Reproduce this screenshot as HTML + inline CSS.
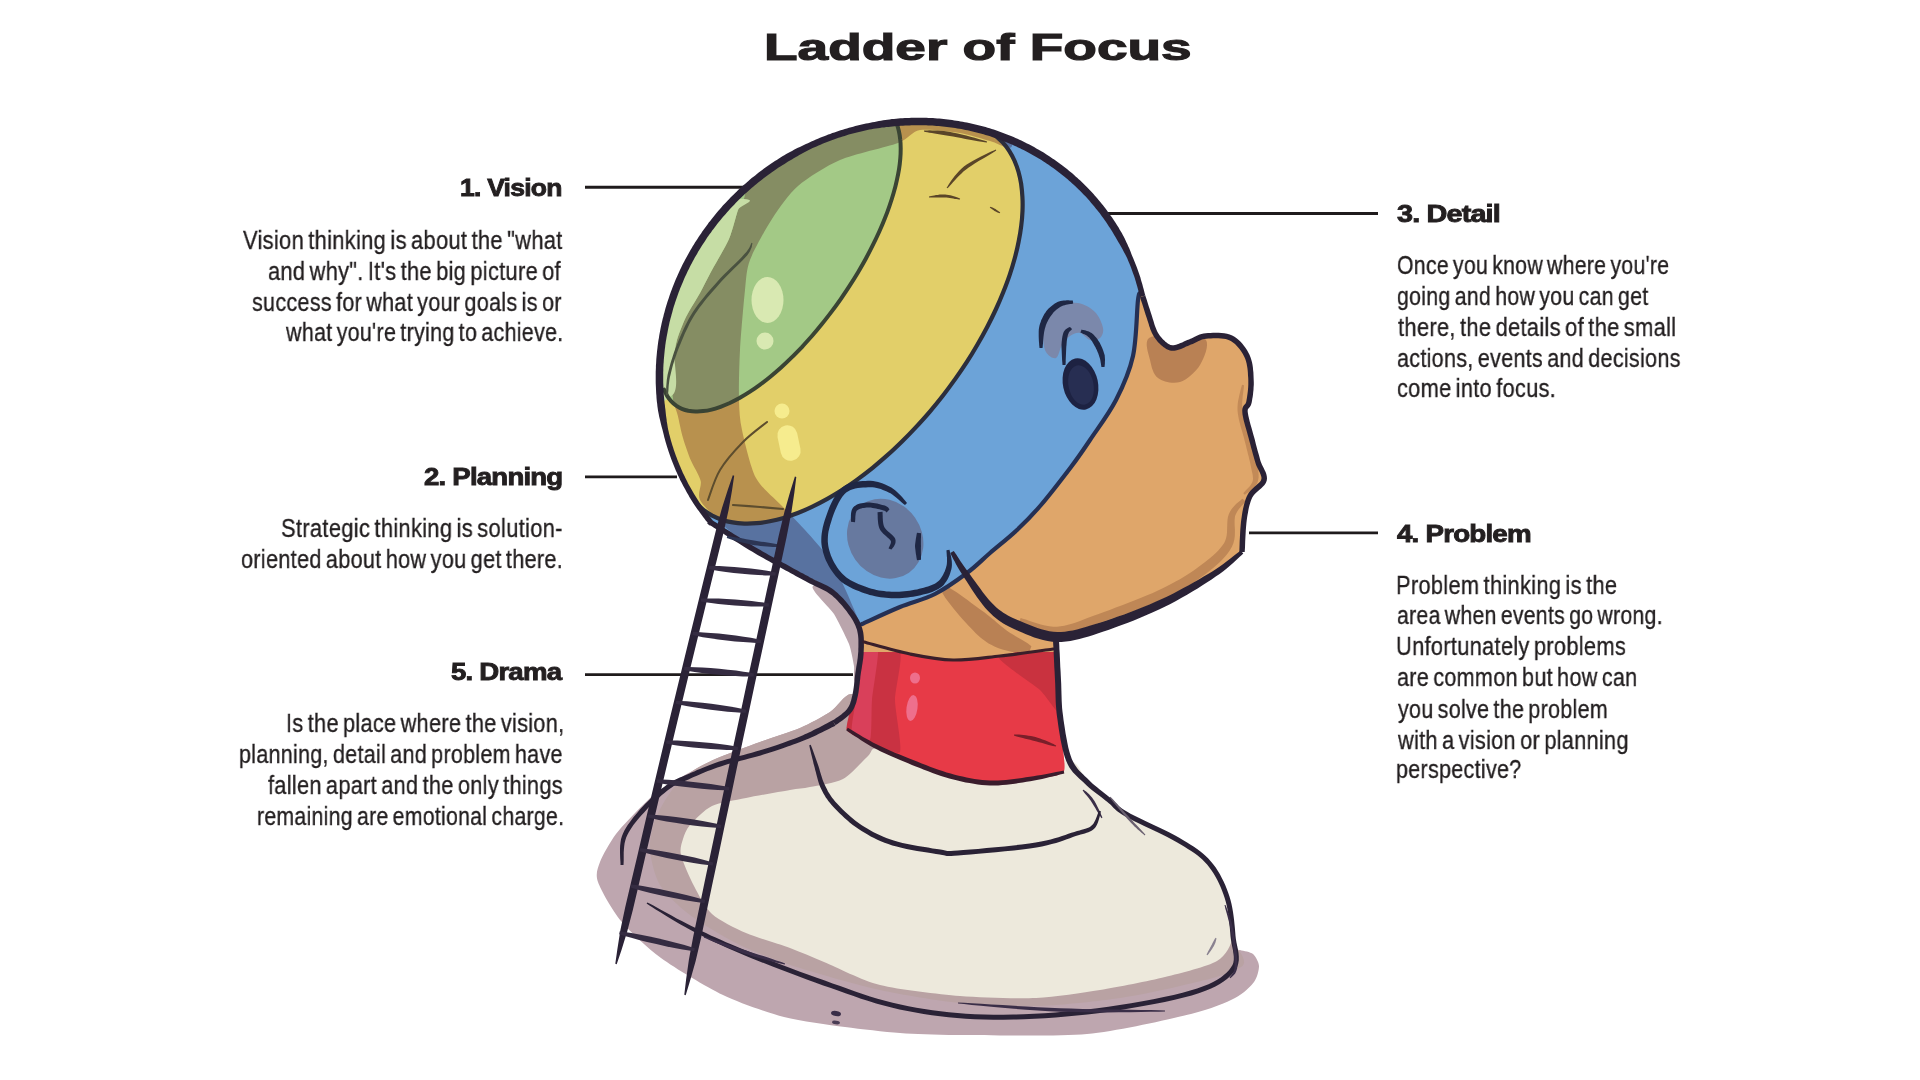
<!DOCTYPE html>
<html><head><meta charset="utf-8"><title>Ladder of Focus</title>
<style>
html,body{margin:0;padding:0;background:#fff;}
body{width:1920px;height:1080px;position:relative;overflow:hidden;font-family:"Liberation Sans",sans-serif;}
span{position:absolute;white-space:pre;transform-origin:0 0;-webkit-font-smoothing:antialiased;will-change:transform;}
svg{position:absolute;left:0;top:0;}
</style></head><body>
<svg width="1920" height="1080" viewBox="0 0 1920 1080">
<defs><clipPath id="hc"><path d="M710.8,522.4 L703.2,512.6 L696.2,502.5 L689.7,491.9 L683.8,481.0 L678.5,469.8 L673.9,458.3 L669.9,446.5 L666.5,434.5 L663.8,422.3 L661.7,409.9 L660.3,397.4 L659.5,384.8 L659.5,372.2 L660.1,359.5 L661.3,346.9 L663.3,334.3 L665.9,321.7 L669.1,309.3 L673.0,297.0 L677.6,285.0 L682.7,273.1 L688.5,261.5 L694.8,250.1 L701.7,239.1 L709.2,228.4 L717.2,218.1 L725.7,208.2 L734.7,198.7 L744.2,189.6 L754.1,181.0 L764.5,173.0 L775.2,165.4 L786.2,158.4 L797.6,152.0 L809.3,146.1 L821.2,140.8 L833.4,136.2 L845.7,132.1 L858.2,128.7 L870.9,126.0 L883.6,123.9 L896.4,122.4 L909.2,121.6 L922.0,121.5 L934.8,122.0 L947.4,123.2 L960.0,125.1 L972.4,127.6 L984.6,130.7 L996.5,134.5 L1008.3,138.9 L1019.7,144.0 L1030.8,149.6 L1041.6,155.8 L1052.0,162.6 L1062.0,170.0 L1071.6,177.8 L1080.7,186.2 L1089.3,195.1 L1097.4,204.4 L1105.0,214.2 L1112.0,224.3 L1118.5,234.9 L1124.4,245.8 L1129.7,257.0 L1134.3,268.5 L1138.3,280.3 L1141.7,292.3 L1149.0,316.0 L1155.0,333.0 L1164.0,344.0 L1174.0,348.0 L1190.0,342.0 L1206.0,336.0 L1231.0,338.0 L1247.0,356.0 L1251.0,380.0 L1249.0,402.0 L1245.0,412.0 L1252.0,440.0 L1258.0,462.0 L1264.0,480.0 L1250.0,496.0 L1244.0,520.0 L1242.0,552.0 L1214.0,574.0 L1163.0,603.0 L1102.0,627.0 L1057.0,637.0 L1056.0,652.0 L862.0,652.0 L862.0,630.0 L843.0,601.0 L815.0,580.0 L787.0,569.0 L759.0,552.5 L732.0,536.0 Z"/></clipPath><clipPath id="sc"><ellipse cx="904.1" cy="363.4" rx="250.3" ry="236.1" transform="rotate(-39.44 904.1 363.4)"/></clipPath></defs>
<line x1="585" y1="187.3" x2="751" y2="187.3" stroke="#1f1b1c" stroke-width="2.9"/>
<line x1="585" y1="476.9" x2="677" y2="476.9" stroke="#1f1b1c" stroke-width="2.9"/>
<line x1="585" y1="674.6" x2="853" y2="674.6" stroke="#1f1b1c" stroke-width="2.9"/>
<line x1="1100" y1="213.5" x2="1378" y2="213.5" stroke="#1f1b1c" stroke-width="2.9"/>
<line x1="1249" y1="532.9" x2="1378" y2="532.9" stroke="#1f1b1c" stroke-width="2.9"/>
<path d="M813.0,586.0 C808.9,588.4 830.4,608.2 834.0,614.0 C837.6,619.8 847.0,638.8 849.0,644.0 C851.0,649.2 853.4,662.2 854.0,666.0 C854.6,669.8 852.9,680.4 855.0,682.0 C857.1,683.6 873.0,691.2 875.0,682.0 C877.0,672.8 881.2,599.6 875.0,590.0 C868.8,580.4 817.1,583.6 813.0,586.0 Z" fill="#baa5ac"/>
<path d="M852.0,694.0 C845.3,692.9 836.9,707.5 830.0,712.0 C823.1,716.5 809.3,724.0 800.0,728.0 C790.7,732.0 770.7,738.1 760.0,742.0 C749.3,745.9 728.8,753.3 720.0,757.0 C711.2,760.7 702.0,765.6 694.0,770.0 C686.0,774.4 666.9,785.2 660.0,790.0 C653.1,794.8 647.9,800.1 642.0,806.0 C636.1,811.9 621.6,826.5 616.0,834.0 C610.4,841.5 602.4,855.6 600.0,862.0 C597.6,868.4 595.2,874.1 598.0,882.0 C600.8,889.9 612.6,910.9 621.0,921.0 C629.4,931.1 647.4,948.1 661.0,958.0 C674.6,967.9 706.6,987.1 723.0,995.0 C739.4,1002.9 767.7,1012.7 784.0,1017.0 C800.3,1021.3 829.5,1024.9 845.0,1027.0 C860.5,1029.1 884.9,1031.9 900.0,1033.0 C915.1,1034.1 933.1,1034.9 958.0,1035.0 C982.9,1035.1 1055.9,1036.8 1087.0,1034.0 C1118.1,1031.2 1171.3,1018.8 1191.0,1014.0 C1210.7,1009.2 1226.6,1002.3 1235.0,998.0 C1243.4,993.7 1250.8,986.3 1254.0,982.0 C1257.2,977.7 1259.1,969.7 1259.0,966.0 C1258.9,962.3 1255.5,956.1 1253.0,954.0 C1250.5,951.9 1243.6,951.1 1240.0,950.0 C1236.4,948.9 1238.0,959.3 1226.0,946.0 C1214.0,932.7 1180.1,874.8 1150.0,850.0 C1119.9,825.2 1036.0,777.3 1000.0,760.0 C964.0,742.7 899.7,728.8 880.0,720.0 C860.3,711.2 858.7,695.1 852.0,694.0 Z" fill="#bea6af"/>
<path d="M852.0,694.0 C845.3,692.9 836.9,707.5 830.0,712.0 C823.1,716.5 809.3,724.0 800.0,728.0 C790.7,732.0 770.7,738.1 760.0,742.0 C749.3,745.9 728.8,753.3 720.0,757.0 C711.2,760.7 700.4,765.6 694.0,770.0 C687.6,774.4 677.2,783.3 672.0,790.0 C666.8,796.7 657.9,812.0 655.0,820.0 C652.1,828.0 649.3,841.3 650.0,850.0 C650.7,858.7 654.7,876.3 660.0,885.0 C665.3,893.7 679.3,907.0 690.0,915.0 C700.7,923.0 725.3,937.9 740.0,945.0 C754.7,952.1 781.3,962.0 800.0,968.0 C818.7,974.0 858.7,985.3 880.0,990.0 C901.3,994.7 938.7,1000.9 960.0,1003.0 C981.3,1005.1 1018.7,1006.7 1040.0,1006.0 C1061.3,1005.3 1101.3,1000.7 1120.0,998.0 C1138.7,995.3 1165.3,989.5 1180.0,986.0 C1194.7,982.5 1222.0,976.5 1230.0,972.0 C1238.0,967.5 1250.7,968.3 1240.0,952.0 C1229.3,935.7 1182.0,875.6 1150.0,850.0 C1118.0,824.4 1036.0,777.3 1000.0,760.0 C964.0,742.7 899.7,728.8 880.0,720.0 C860.3,711.2 858.7,695.1 852.0,694.0 Z" fill="#b9a2a3"/>
<path d="M877.0,748.0 C870.1,748.1 872.5,751.9 868.0,756.0 C863.5,760.1 850.7,774.9 843.0,779.0 C835.3,783.1 817.1,785.5 810.0,787.0 C802.9,788.5 798.5,788.5 790.0,790.0 C781.5,791.5 756.4,795.9 746.0,798.0 C735.6,800.1 719.5,802.4 712.0,806.0 C704.5,809.6 693.9,820.6 690.0,825.0 C686.1,829.4 684.2,835.0 683.0,839.0 C681.8,843.0 679.5,848.7 681.0,855.0 C682.5,861.3 689.9,878.1 694.0,886.0 C698.1,893.9 705.1,907.7 712.0,914.0 C718.9,920.3 735.6,928.5 746.0,933.0 C756.4,937.5 779.6,944.1 790.0,948.0 C800.4,951.9 812.0,957.1 824.0,962.0 C836.0,966.9 861.9,980.5 880.0,985.0 C898.1,989.5 939.2,994.3 960.0,996.0 C980.8,997.7 1017.3,998.8 1036.0,998.0 C1054.7,997.2 1082.8,992.8 1100.0,990.0 C1117.2,987.2 1149.4,980.9 1165.0,977.0 C1180.6,973.1 1207.9,966.5 1217.0,961.0 C1226.1,955.5 1231.5,944.5 1233.0,936.0 C1234.5,927.5 1231.2,906.7 1228.0,897.0 C1224.8,887.3 1215.7,870.6 1209.0,863.0 C1202.3,855.4 1189.1,846.5 1178.0,840.0 C1166.9,833.5 1137.7,821.2 1126.0,814.0 C1114.3,806.8 1097.6,793.2 1090.0,786.0 C1082.4,778.8 1081.0,762.8 1069.0,760.0 C1057.0,757.2 1019.9,765.7 1000.0,765.0 C980.1,764.3 936.4,757.3 920.0,755.0 C903.6,752.7 883.9,747.9 877.0,748.0 Z" fill="#ede9dc"/>
<path d="M858.0,600.0 L1058.0,600.0 L1058.0,650.0 L1064.0,771.0 L990.0,784.0 L909.0,762.0 L847.0,730.0 L853.0,716.0 L857.0,690.0 L860.0,657.0 Z" fill="#dfa66a"/>
<path d="M864.0,642.0 C869.0,641.3 901.1,651.2 910.0,653.0 C918.9,654.8 944.0,659.7 953.0,660.0 C962.0,660.3 990.0,657.1 1000.0,656.0 C1010.0,654.9 1047.4,645.6 1053.0,649.0 C1058.6,652.4 1055.5,683.3 1056.0,690.0 C1056.5,696.7 1057.2,707.9 1058.0,716.0 C1058.8,724.1 1066.8,764.7 1064.0,771.0 C1061.2,777.3 1037.4,777.8 1030.0,779.0 C1022.6,780.2 998.0,783.3 990.0,783.0 C982.0,782.7 958.1,778.2 950.0,776.0 C941.9,773.8 916.5,764.0 909.0,761.0 C901.5,758.0 881.2,749.1 875.0,746.0 C868.8,742.9 849.2,733.0 847.0,730.0 C844.8,727.0 852.0,720.0 853.0,716.0 C854.0,712.0 856.3,695.6 857.0,690.0 C857.7,684.4 859.3,664.8 860.0,660.0 C860.7,655.2 859.0,642.7 864.0,642.0 Z" fill="#e73a47"/>
<path d="M864.0,645.0 C868.0,644.2 896.9,646.5 900.0,652.0 C903.1,657.5 895.0,690.0 895.0,700.0 C895.0,710.0 902.5,747.8 900.0,752.0 C897.5,756.2 875.3,744.2 870.0,742.0 C864.7,739.8 848.7,734.2 847.0,730.0 C845.3,725.8 851.7,707.0 853.0,700.0 C854.3,693.0 858.9,665.5 860.0,660.0 C861.1,654.5 860.0,645.8 864.0,645.0 Z" fill="#c93242"/>
<path d="M864.0,648.0 C866.2,643.1 877.2,645.8 878.0,651.0 C878.8,656.2 872.8,691.1 872.0,700.0 C871.2,708.9 872.0,736.8 870.0,740.0 C868.0,743.2 853.4,736.0 852.0,732.0 C850.6,728.0 854.8,708.4 856.0,700.0 C857.2,691.6 861.8,652.9 864.0,648.0 Z" fill="#d9405a"/>
<path d="M1000.0,656.0 C1004.3,654.1 1047.4,645.6 1053.0,649.0 C1058.6,652.4 1055.5,683.7 1056.0,690.0 C1056.5,696.3 1059.6,712.0 1058.0,712.0 C1056.4,712.0 1044.8,694.4 1040.0,690.0 C1035.2,685.6 1014.0,671.4 1010.0,668.0 C1006.0,664.6 995.7,657.9 1000.0,656.0 Z" fill="#c9323f"/>
<ellipse cx="915" cy="678" rx="5" ry="5.5" fill="#ee6f8c"/>
<ellipse cx="912" cy="708" rx="5.5" ry="13" transform="rotate(8 912 708)" fill="#ee6f8c"/>
<defs><clipPath id="cb"><path d="M1141.0,293.0 C1140.5,294.2 1139.3,289.5 1138.0,300.0 C1136.7,310.5 1136.7,339.3 1133.0,356.0 C1129.3,372.7 1123.2,386.0 1116.0,400.0 C1108.8,414.0 1097.5,428.8 1090.0,440.0 C1082.5,451.2 1079.2,456.2 1071.0,467.0 C1062.8,477.8 1050.0,494.5 1041.0,505.0 C1032.0,515.5 1025.5,522.0 1017.0,530.0 C1008.5,538.0 998.3,545.8 990.0,553.0 C981.7,560.2 976.2,566.2 967.0,573.0 C957.8,579.8 946.2,588.3 935.0,594.0 C923.8,599.7 912.2,602.0 900.0,607.0 C887.8,612.0 868.3,621.2 862.0,624.0 L840,640 L600,640 L600,100 L1145,100 Z"/></clipPath><clipPath id="cy"><path d="M965.9,122.8 L976.7,125.5 L986.4,129.6 L995.1,135.3 L1002.7,142.3 L1009.2,150.8 L1014.4,160.5 L1018.4,171.5 L1021.1,183.6 L1022.4,196.8 L1022.5,211.0 L1021.2,226.0 L1018.6,241.7 L1014.8,258.0 L1009.7,274.9 L1003.3,292.1 L995.8,309.5 L987.2,327.0 L977.5,344.5 L966.9,361.9 L955.3,378.9 L943.0,395.5 L929.9,411.6 L916.2,426.9 L902.0,441.5 L887.4,455.2 L872.6,467.9 L857.5,479.4 L842.4,489.8 L827.3,498.9 L812.4,506.6 L797.8,513.0 L783.6,517.9 L769.8,521.3 L756.7,523.2 L744.3,523.6 L732.7,522.4 L721.9,519.7 L712.2,515.6 L703.5,509.9 L695.9,502.9 L689.4,494.4 L684.2,484.7 L600.0,600.0 L600.0,60.0 L990.0,60.0 Z"/></clipPath><clipPath id="cg"><path d="M884.4,107.3 L889.3,111.6 L893.3,116.9 L896.5,123.3 L898.8,130.8 L900.2,139.2 L900.7,148.4 L900.3,158.5 L899.0,169.4 L896.7,180.9 L893.6,193.0 L889.6,205.6 L884.8,218.5 L879.2,231.8 L872.8,245.2 L865.8,258.7 L858.1,272.2 L849.7,285.6 L840.9,298.8 L831.6,311.6 L821.9,324.0 L811.9,336.0 L801.7,347.3 L791.2,357.9 L780.8,367.7 L770.3,376.7 L759.8,384.8 L749.6,391.9 L739.5,398.0 L729.8,403.0 L720.5,406.8 L711.6,409.6 L703.2,411.1 L695.5,411.5 L688.3,410.8 L681.9,408.8 L676.2,405.7 L671.3,401.4 L667.3,396.1 L664.1,389.7 L661.8,382.2 L600.0,420.0 L600.0,60.0 L900.0,60.0 Z"/></clipPath></defs>
<g clip-path="url(#hc)">
<rect x="600" y="100" width="700" height="560" fill="#dfa66a"/>
<path d="M1141.0,293.0 C1140.5,294.2 1139.3,289.5 1138.0,300.0 C1136.7,310.5 1136.7,339.3 1133.0,356.0 C1129.3,372.7 1123.2,386.0 1116.0,400.0 C1108.8,414.0 1097.5,428.8 1090.0,440.0 C1082.5,451.2 1079.2,456.2 1071.0,467.0 C1062.8,477.8 1050.0,494.5 1041.0,505.0 C1032.0,515.5 1025.5,522.0 1017.0,530.0 C1008.5,538.0 998.3,545.8 990.0,553.0 C981.7,560.2 976.2,566.2 967.0,573.0 C957.8,579.8 946.2,588.3 935.0,594.0 C923.8,599.7 912.2,602.0 900.0,607.0 C887.8,612.0 868.3,621.2 862.0,624.0 L840,640 L600,640 L600,100 L1145,100 Z" fill="#6ca3d8"/>
<g clip-path="url(#cb)"><path d="M1012.0,146.0 C1010.7,151.5 996.9,142.7 990.0,141.0 C983.1,139.3 969.3,134.5 960.0,133.0 C950.7,131.5 928.3,128.7 920.0,130.0 C911.7,131.3 908.7,139.0 898.0,143.0 C887.3,147.0 853.3,154.3 840.0,160.0 C826.7,165.7 807.1,178.1 798.0,186.0 C788.9,193.9 778.4,209.1 772.0,219.0 C765.6,228.9 753.6,250.5 750.0,260.0 C746.4,269.5 746.3,278.0 745.0,290.0 C743.7,302.0 740.8,335.3 740.0,350.0 C739.2,364.7 738.7,389.3 739.0,400.0 C739.3,410.7 739.7,419.6 742.0,430.0 C744.3,440.4 750.5,467.7 756.0,478.0 C761.5,488.3 776.5,500.1 783.0,507.0 C789.5,513.9 798.7,522.9 805.0,530.0 C811.3,537.1 824.0,550.7 830.0,560.0 C836.0,569.3 845.7,589.3 850.0,600.0 C854.3,610.7 868.7,640.0 862.0,640.0 C855.3,640.0 813.6,610.7 800.0,600.0 C786.4,589.3 766.4,566.9 760.0,560.0 C753.6,553.1 756.7,552.4 752.0,548.0 C747.3,543.6 731.9,533.4 725.0,527.0 C718.1,520.6 703.2,506.1 700.0,500.0 C696.8,493.9 702.0,486.3 700.7,480.9 C699.5,475.6 693.1,465.7 690.7,460.0 C688.3,454.3 684.7,444.0 683.0,438.0 C681.2,432.0 679.1,420.9 677.7,415.2 C676.3,409.5 672.9,402.9 672.5,395.0 C672.1,387.1 673.9,363.3 674.5,356.0 C675.1,348.7 675.5,345.2 677.0,340.0 C678.5,334.8 682.9,323.3 686.0,317.0 C689.1,310.7 696.5,299.3 700.0,293.0 C703.5,286.7 708.1,277.2 712.0,270.0 C715.9,262.8 725.5,247.0 729.0,239.0 C732.5,231.0 736.0,215.3 738.0,210.0 C740.0,204.7 741.1,207.0 744.0,199.0 C746.9,191.0 745.9,161.9 760.0,150.0 C774.1,138.1 818.0,116.7 850.0,110.0 C882.0,103.3 978.4,95.2 1000.0,100.0 C1021.6,104.8 1013.3,140.5 1012.0,146.0 Z" fill="#5872a0"/></g>
<g clip-path="url(#sc)">
<path d="M965.9,122.8 L976.7,125.5 L986.4,129.6 L995.1,135.3 L1002.7,142.3 L1009.2,150.8 L1014.4,160.5 L1018.4,171.5 L1021.1,183.6 L1022.4,196.8 L1022.5,211.0 L1021.2,226.0 L1018.6,241.7 L1014.8,258.0 L1009.7,274.9 L1003.3,292.1 L995.8,309.5 L987.2,327.0 L977.5,344.5 L966.9,361.9 L955.3,378.9 L943.0,395.5 L929.9,411.6 L916.2,426.9 L902.0,441.5 L887.4,455.2 L872.6,467.9 L857.5,479.4 L842.4,489.8 L827.3,498.9 L812.4,506.6 L797.8,513.0 L783.6,517.9 L769.8,521.3 L756.7,523.2 L744.3,523.6 L732.7,522.4 L721.9,519.7 L712.2,515.6 L703.5,509.9 L695.9,502.9 L689.4,494.4 L684.2,484.7 L600.0,600.0 L600.0,60.0 L990.0,60.0 Z" fill="#e2cf69"/>
<g clip-path="url(#cy)"><path d="M1012.0,146.0 C1010.7,151.5 996.9,142.7 990.0,141.0 C983.1,139.3 969.3,134.5 960.0,133.0 C950.7,131.5 928.3,128.7 920.0,130.0 C911.7,131.3 908.7,139.0 898.0,143.0 C887.3,147.0 853.3,154.3 840.0,160.0 C826.7,165.7 807.1,178.1 798.0,186.0 C788.9,193.9 778.4,209.1 772.0,219.0 C765.6,228.9 753.6,250.5 750.0,260.0 C746.4,269.5 746.3,278.0 745.0,290.0 C743.7,302.0 740.8,335.3 740.0,350.0 C739.2,364.7 738.7,389.3 739.0,400.0 C739.3,410.7 739.7,419.6 742.0,430.0 C744.3,440.4 750.5,467.7 756.0,478.0 C761.5,488.3 776.5,500.1 783.0,507.0 C789.5,513.9 798.7,522.9 805.0,530.0 C811.3,537.1 824.0,550.7 830.0,560.0 C836.0,569.3 845.7,589.3 850.0,600.0 C854.3,610.7 868.7,640.0 862.0,640.0 C855.3,640.0 813.6,610.7 800.0,600.0 C786.4,589.3 766.4,566.9 760.0,560.0 C753.6,553.1 756.7,552.4 752.0,548.0 C747.3,543.6 731.9,533.4 725.0,527.0 C718.1,520.6 703.2,506.1 700.0,500.0 C696.8,493.9 702.0,486.3 700.7,480.9 C699.5,475.6 693.1,465.7 690.7,460.0 C688.3,454.3 684.7,444.0 683.0,438.0 C681.2,432.0 679.1,420.9 677.7,415.2 C676.3,409.5 672.9,402.9 672.5,395.0 C672.1,387.1 673.9,363.3 674.5,356.0 C675.1,348.7 675.5,345.2 677.0,340.0 C678.5,334.8 682.9,323.3 686.0,317.0 C689.1,310.7 696.5,299.3 700.0,293.0 C703.5,286.7 708.1,277.2 712.0,270.0 C715.9,262.8 725.5,247.0 729.0,239.0 C732.5,231.0 736.0,215.3 738.0,210.0 C740.0,204.7 741.1,207.0 744.0,199.0 C746.9,191.0 745.9,161.9 760.0,150.0 C774.1,138.1 818.0,116.7 850.0,110.0 C882.0,103.3 978.4,95.2 1000.0,100.0 C1021.6,104.8 1013.3,140.5 1012.0,146.0 Z" fill="#b8914e"/></g>
<path d="M884.4,107.3 L889.3,111.6 L893.3,116.9 L896.5,123.3 L898.8,130.8 L900.2,139.2 L900.7,148.4 L900.3,158.5 L899.0,169.4 L896.7,180.9 L893.6,193.0 L889.6,205.6 L884.8,218.5 L879.2,231.8 L872.8,245.2 L865.8,258.7 L858.1,272.2 L849.7,285.6 L840.9,298.8 L831.6,311.6 L821.9,324.0 L811.9,336.0 L801.7,347.3 L791.2,357.9 L780.8,367.7 L770.3,376.7 L759.8,384.8 L749.6,391.9 L739.5,398.0 L729.8,403.0 L720.5,406.8 L711.6,409.6 L703.2,411.1 L695.5,411.5 L688.3,410.8 L681.9,408.8 L676.2,405.7 L671.3,401.4 L667.3,396.1 L664.1,389.7 L661.8,382.2 L600.0,420.0 L600.0,60.0 L900.0,60.0 Z" fill="#a3c986"/>
<g clip-path="url(#cg)"><path d="M1012.0,146.0 C1010.7,151.5 996.9,142.7 990.0,141.0 C983.1,139.3 969.3,134.5 960.0,133.0 C950.7,131.5 928.3,128.7 920.0,130.0 C911.7,131.3 908.7,139.0 898.0,143.0 C887.3,147.0 853.3,154.3 840.0,160.0 C826.7,165.7 807.1,178.1 798.0,186.0 C788.9,193.9 778.4,209.1 772.0,219.0 C765.6,228.9 753.6,250.5 750.0,260.0 C746.4,269.5 746.3,278.0 745.0,290.0 C743.7,302.0 740.8,335.3 740.0,350.0 C739.2,364.7 738.7,389.3 739.0,400.0 C739.3,410.7 739.7,419.6 742.0,430.0 C744.3,440.4 750.5,467.7 756.0,478.0 C761.5,488.3 776.5,500.1 783.0,507.0 C789.5,513.9 798.7,522.9 805.0,530.0 C811.3,537.1 824.0,550.7 830.0,560.0 C836.0,569.3 845.7,589.3 850.0,600.0 C854.3,610.7 868.7,640.0 862.0,640.0 C855.3,640.0 813.6,610.7 800.0,600.0 C786.4,589.3 766.4,566.9 760.0,560.0 C753.6,553.1 756.7,552.4 752.0,548.0 C747.3,543.6 731.9,533.4 725.0,527.0 C718.1,520.6 703.2,506.1 700.0,500.0 C696.8,493.9 702.0,486.3 700.7,480.9 C699.5,475.6 693.1,465.7 690.7,460.0 C688.3,454.3 684.7,444.0 683.0,438.0 C681.2,432.0 679.1,420.9 677.7,415.2 C676.3,409.5 672.9,402.9 672.5,395.0 C672.1,387.1 673.9,363.3 674.5,356.0 C675.1,348.7 675.5,345.2 677.0,340.0 C678.5,334.8 682.9,323.3 686.0,317.0 C689.1,310.7 696.5,299.3 700.0,293.0 C703.5,286.7 708.1,277.2 712.0,270.0 C715.9,262.8 725.5,247.0 729.0,239.0 C732.5,231.0 736.0,215.3 738.0,210.0 C740.0,204.7 741.1,207.0 744.0,199.0 C746.9,191.0 745.9,161.9 760.0,150.0 C774.1,138.1 818.0,116.7 850.0,110.0 C882.0,103.3 978.4,95.2 1000.0,100.0 C1021.6,104.8 1013.3,140.5 1012.0,146.0 Z" fill="#858d63"/></g>
</g>
<path d="M744.0,199.0 C759.7,200.3 740.0,204.7 738.0,210.0 C736.0,215.3 732.5,231.0 729.0,239.0 C725.5,247.0 715.9,262.8 712.0,270.0 C708.1,277.2 703.5,286.7 700.0,293.0 C696.5,299.3 689.1,310.7 686.0,317.0 C682.9,323.3 678.5,334.8 677.0,340.0 C675.5,345.2 675.1,348.7 674.5,356.0 C673.9,363.3 679.8,388.9 672.5,395.0 C665.2,401.1 627.0,428.0 620.0,402.0 C613.0,376.0 603.5,227.1 620.0,200.0 C636.5,172.9 728.3,197.7 744.0,199.0 Z" fill="#c6dda5"/>
<path d="M1149.0,338.0 C1154.0,334.0 1170.5,335.7 1180.0,336.0 C1189.5,336.3 1202.7,335.2 1206.0,340.0 C1209.3,344.8 1204.3,358.0 1200.0,365.0 C1195.7,372.0 1187.0,379.8 1180.0,382.0 C1173.0,384.2 1163.0,381.7 1158.0,378.0 C1153.0,374.3 1151.5,366.7 1150.0,360.0 C1148.5,353.3 1144.0,342.0 1149.0,338.0 Z" fill="#b98154"/>
<path d="M1242.5,498.7 L1241.7,499.3 L1240.7,500.2 L1239.4,501.2 L1237.9,502.4 L1236.3,503.8 L1234.7,505.4 L1233.1,507.2 L1231.5,509.2 L1230.1,511.4 L1228.9,513.9 L1228.0,516.8 L1227.5,519.8 L1227.3,522.9 L1227.2,526.1 L1227.1,529.2 L1227.0,532.3 L1226.7,535.3 L1226.1,538.1 L1225.3,540.6 L1224.2,542.9 L1222.6,545.3 L1220.6,547.8 L1218.3,550.4 L1215.8,552.9 L1213.1,555.5 L1210.1,558.0 L1207.0,560.6 L1203.8,563.1 L1200.4,565.6 L1197.1,568.0 L1193.7,570.4 L1190.3,572.7 L1186.8,575.0 L1183.2,577.2 L1179.5,579.4 L1175.6,581.6 L1171.5,583.8 L1167.2,586.0 L1162.7,588.3 L1158.0,590.5 L1152.8,592.9 L1147.1,595.3 L1141.1,597.8 L1134.9,600.3 L1128.5,602.8 L1122.1,605.2 L1115.8,607.6 L1109.7,609.9 L1104.0,612.0 L1098.6,613.9 L1093.6,615.7 L1088.8,617.5 L1084.3,619.3 L1080.0,620.9 L1075.9,622.4 L1071.9,623.7 L1068.1,624.8 L1064.3,625.7 L1060.6,626.3 L1057.0,626.7 L1053.2,626.7 L1049.2,626.2 L1045.0,625.5 L1040.8,624.4 L1036.7,623.2 L1032.7,622.0 L1029.0,620.7 L1025.7,619.6 L1022.9,618.7 L1020.6,618.1 L1019.4,621.9 L1021.5,622.7 L1024.1,623.8 L1027.3,625.2 L1031.0,626.7 L1035.0,628.3 L1039.2,629.8 L1043.6,631.1 L1048.1,632.3 L1052.6,633.0 L1057.0,633.3 L1061.3,633.1 L1065.5,632.7 L1069.8,631.9 L1074.0,630.9 L1078.2,629.7 L1082.6,628.4 L1087.0,626.9 L1091.6,625.4 L1096.4,623.8 L1101.4,622.1 L1106.9,620.3 L1112.7,618.3 L1118.9,616.2 L1125.3,613.9 L1131.8,611.6 L1138.3,609.2 L1144.7,606.7 L1150.9,604.3 L1156.7,601.8 L1162.0,599.5 L1167.0,597.2 L1171.7,594.9 L1176.2,592.6 L1180.4,590.4 L1184.5,588.1 L1188.4,585.8 L1192.2,583.4 L1195.9,581.0 L1199.4,578.5 L1202.9,576.0 L1206.3,573.4 L1209.7,570.7 L1213.1,568.0 L1216.3,565.2 L1219.4,562.4 L1222.4,559.5 L1225.1,556.5 L1227.6,553.5 L1229.9,550.3 L1231.8,547.1 L1233.3,543.5 L1234.3,539.8 L1234.8,536.2 L1234.9,532.7 L1234.9,529.3 L1234.7,526.0 L1234.6,523.1 L1234.6,520.4 L1234.8,518.0 L1235.1,516.1 L1235.8,514.2 L1236.7,512.4 L1237.7,510.7 L1238.9,509.0 L1240.2,507.5 L1241.4,506.0 L1242.7,504.7 L1243.8,503.4 L1244.8,502.3 L1245.5,501.3 Z" fill="#bf8756"/>
<path d="M1242.0,384.8 L1241.6,386.3 L1241.1,388.1 L1240.5,390.2 L1239.9,392.7 L1239.3,395.3 L1238.7,398.2 L1238.1,401.1 L1237.7,404.2 L1237.5,407.2 L1237.5,410.2 L1237.8,413.2 L1238.3,416.3 L1238.9,419.5 L1239.7,422.7 L1240.5,425.9 L1241.4,429.1 L1242.4,432.2 L1243.2,435.2 L1244.0,438.1 L1244.7,440.9 L1245.4,443.6 L1246.1,446.3 L1246.7,449.0 L1247.4,451.6 L1248.0,454.2 L1248.7,456.6 L1249.2,459.0 L1249.8,461.3 L1250.3,463.5 L1250.7,465.6 L1251.1,467.6 L1251.5,469.6 L1251.9,471.4 L1252.3,473.1 L1252.6,474.6 L1252.8,476.1 L1252.9,477.5 L1253.0,478.8 L1252.9,480.0 L1252.7,481.1 L1252.3,482.3 L1251.6,483.6 L1250.7,485.0 L1249.6,486.4 L1248.4,487.8 L1247.1,489.1 L1245.9,490.3 L1244.8,491.5 L1243.9,492.5 L1243.3,493.3 L1244.7,494.7 L1245.5,494.2 L1246.5,493.4 L1247.8,492.6 L1249.3,491.5 L1250.8,490.4 L1252.3,489.1 L1253.8,487.7 L1255.2,486.2 L1256.4,484.6 L1257.3,482.9 L1257.9,481.1 L1258.3,479.3 L1258.6,477.6 L1258.6,475.8 L1258.6,474.0 L1258.4,472.2 L1258.2,470.3 L1257.9,468.4 L1257.6,466.5 L1257.3,464.4 L1257.0,462.2 L1256.5,459.9 L1256.0,457.5 L1255.5,455.0 L1254.8,452.5 L1254.2,449.9 L1253.5,447.2 L1252.8,444.6 L1252.0,441.9 L1251.3,439.1 L1250.4,436.3 L1249.5,433.3 L1248.4,430.2 L1247.4,427.2 L1246.3,424.1 L1245.3,421.1 L1244.4,418.1 L1243.6,415.2 L1242.9,412.4 L1242.5,409.8 L1242.2,407.2 L1242.1,404.4 L1242.2,401.6 L1242.5,398.7 L1242.7,395.9 L1243.1,393.3 L1243.4,390.8 L1243.7,388.6 L1243.9,386.7 L1244.0,385.2 Z" fill="#c38a57"/>
<path d="M942.3,592.9 L943.6,595.1 L945.4,597.9 L947.7,601.1 L950.4,604.5 L953.3,608.2 L956.4,611.9 L959.5,615.7 L962.6,619.2 L965.6,622.6 L968.3,625.5 L970.8,628.1 L973.2,630.6 L975.5,633.0 L977.9,635.2 L980.4,637.4 L983.0,639.5 L985.8,641.5 L988.6,643.4 L991.7,645.1 L995.0,646.7 L998.6,648.2 L1002.4,649.5 L1006.3,650.6 L1010.2,651.5 L1014.0,652.3 L1017.6,652.9 L1021.0,653.4 L1024.0,653.6 L1026.6,653.8 L1028.6,653.7 L1031.4,646.3 L1029.8,644.9 L1027.6,643.3 L1025.1,641.7 L1022.2,640.0 L1019.1,638.2 L1016.0,636.4 L1012.9,634.5 L1009.9,632.7 L1007.3,630.9 L1005.0,629.3 L1002.9,627.6 L1000.9,625.9 L998.8,624.2 L996.7,622.4 L994.6,620.6 L992.3,618.7 L989.9,616.7 L987.3,614.7 L984.6,612.6 L981.7,610.5 L978.5,608.2 L975.1,605.7 L971.3,602.9 L967.5,600.1 L963.6,597.3 L959.8,594.6 L956.2,592.1 L952.9,590.0 L950.1,588.3 L947.7,587.1 Z" fill="#b98154"/>
</g>
<ellipse cx="767.5" cy="300" rx="16" ry="23" fill="#d9e9b2"/>
<circle cx="765" cy="341" r="8.5" fill="#d9e9b2"/>
<circle cx="782" cy="411" r="7.5" fill="#f6ec8e"/>
<rect x="779" y="425" width="20" height="36" rx="10" transform="rotate(-12 789 443)" fill="#f6ec8e"/>
<g clip-path="url(#sc)">
<path d="M893.3,116.9 C893.8,118.0 895.6,121.0 896.5,123.3 C897.4,125.6 898.2,128.1 898.8,130.8 C899.4,133.4 899.9,136.2 900.2,139.2 C900.6,142.1 900.7,145.2 900.7,148.4 C900.7,151.7 900.6,155.1 900.3,158.5 C900.0,162.0 899.6,165.7 899.0,169.4 C898.4,173.1 897.6,177.0 896.7,180.9 C895.9,184.8 894.8,188.9 893.6,193.0 C892.4,197.1 891.1,201.3 889.6,205.6 C888.2,209.8 886.6,214.2 884.8,218.5 C883.1,222.9 881.2,227.3 879.2,231.8 C877.2,236.2 875.1,240.7 872.8,245.2 C870.6,249.7 868.2,254.2 865.8,258.7 C863.3,263.2 860.7,267.8 858.1,272.2 C855.4,276.7 852.6,281.2 849.7,285.6 C846.9,290.0 843.9,294.4 840.9,298.8 C837.9,303.1 834.8,307.4 831.6,311.6 C828.4,315.8 825.2,320.0 821.9,324.0 C818.6,328.1 815.3,332.1 811.9,336.0 C808.5,339.8 805.1,343.6 801.7,347.3 C798.2,350.9 794.7,354.5 791.2,357.9 C787.8,361.3 784.3,364.6 780.8,367.7 C777.3,370.8 773.7,373.9 770.3,376.7 C766.8,379.6 763.3,382.3 759.8,384.8 C756.4,387.3 752.9,389.7 749.6,391.9 C746.2,394.1 742.8,396.1 739.5,398.0 C736.2,399.8 733.0,401.5 729.8,403.0 C726.6,404.4 723.5,405.7 720.5,406.8 C717.4,407.9 714.5,408.9 711.6,409.6 C708.7,410.3 705.9,410.8 703.2,411.1 C700.5,411.5 697.9,411.6 695.5,411.5 C693.0,411.5 690.6,411.2 688.3,410.8 C686.1,410.3 683.9,409.6 681.9,408.8 C679.9,408.0 678.0,406.9 676.2,405.7 C674.5,404.5 672.8,403.0 671.3,401.4 C669.8,399.8 668.5,398.0 667.3,396.1 C666.1,394.1 664.6,390.7 664.1,389.7" fill="none" stroke="#3a4434" stroke-width="4.0" stroke-linecap="round" stroke-linejoin="round" />
<path d="M751.5,242.8 L751.2,243.4 L750.9,244.1 L750.6,244.9 L750.2,245.7 L749.8,246.7 L749.3,247.8 L748.5,249.0 L747.6,250.3 L746.4,251.9 L744.9,253.6 L743.1,255.6 L740.9,257.9 L738.4,260.4 L735.6,263.2 L732.7,266.0 L729.6,268.9 L726.6,271.9 L723.5,275.0 L720.6,278.0 L717.9,281.0 L715.3,284.0 L712.6,287.0 L709.9,290.0 L707.3,293.1 L704.7,296.2 L702.1,299.4 L699.6,302.5 L697.2,305.7 L694.9,309.0 L692.7,312.2 L690.7,315.5 L688.8,318.8 L687.0,322.2 L685.3,325.6 L683.6,329.0 L682.1,332.4 L680.6,335.7 L679.2,339.0 L677.9,342.3 L676.6,345.4 L675.4,348.6 L674.2,351.7 L673.2,354.8 L672.2,357.9 L671.2,360.9 L670.4,363.8 L669.6,366.7 L668.9,369.5 L668.2,372.2 L667.6,374.7 L667.2,377.2 L666.8,379.7 L666.6,382.2 L666.4,384.5 L666.2,386.7 L666.2,388.8 L666.1,390.7 L666.1,392.4 L666.0,393.8 L666.0,394.9 L668.0,395.1 L668.1,393.9 L668.2,392.5 L668.4,390.8 L668.5,388.9 L668.6,386.9 L668.8,384.7 L669.1,382.4 L669.4,380.1 L669.8,377.7 L670.4,375.3 L671.0,372.8 L671.6,370.2 L672.3,367.5 L673.1,364.6 L674.0,361.7 L674.9,358.8 L676.0,355.8 L677.0,352.7 L678.2,349.6 L679.4,346.6 L680.7,343.4 L682.0,340.2 L683.4,336.9 L684.8,333.6 L686.4,330.3 L688.0,326.9 L689.6,323.6 L691.4,320.3 L693.3,317.0 L695.3,313.8 L697.4,310.7 L699.6,307.5 L702.0,304.4 L704.4,301.2 L707.0,298.1 L709.6,295.0 L712.2,292.0 L714.9,288.9 L717.5,285.9 L720.1,283.0 L722.8,280.1 L725.7,277.1 L728.7,274.0 L731.7,271.0 L734.7,268.1 L737.6,265.2 L740.4,262.5 L742.9,259.9 L745.2,257.5 L747.1,255.4 L748.5,253.4 L749.7,251.7 L750.5,250.1 L751.1,248.6 L751.6,247.4 L751.9,246.3 L752.0,245.3 L752.2,244.5 L752.3,243.8 L752.5,243.2 Z" fill="#4a5240"/>
<path d="M708.0,500.0 C710.0,495.0 714.2,479.7 720.0,470.0 C725.8,460.3 735.2,450.0 743.0,442.0 C750.8,434.0 763.0,425.3 767.0,422.0" fill="none" stroke="#5d4d2e" stroke-width="2" stroke-linecap="round" stroke-linejoin="round" />
<path d="M733.0,505.0 C737.5,505.3 751.7,506.3 760.0,507.0 C768.3,507.7 779.2,508.7 783.0,509.0" fill="none" stroke="#5d4d2e" stroke-width="2.2" stroke-linecap="round" stroke-linejoin="round" />
<path d="M995.1,135.3 C996.4,136.4 1000.4,139.8 1002.7,142.3 C1005.1,144.9 1007.2,147.7 1009.2,150.8 C1011.1,153.8 1012.9,157.1 1014.4,160.5 C1015.9,164.0 1017.3,167.7 1018.4,171.5 C1019.5,175.4 1020.4,179.4 1021.1,183.6 C1021.7,187.9 1022.2,192.3 1022.4,196.8 C1022.7,201.4 1022.7,206.1 1022.5,211.0 C1022.3,215.8 1021.9,220.8 1021.2,226.0 C1020.6,231.1 1019.7,236.4 1018.6,241.7 C1017.6,247.0 1016.3,252.5 1014.8,258.0 C1013.3,263.6 1011.6,269.2 1009.7,274.9 C1007.8,280.6 1005.6,286.3 1003.3,292.1 C1001.0,297.9 998.5,303.7 995.8,309.5 C993.1,315.3 990.2,321.2 987.2,327.0 C984.1,332.9 980.9,338.7 977.5,344.5 C974.1,350.4 970.6,356.2 966.9,361.9 C963.2,367.6 959.3,373.3 955.3,378.9 C951.3,384.5 947.2,390.1 943.0,395.5 C938.7,401.0 934.4,406.3 929.9,411.6 C925.4,416.8 920.9,421.9 916.2,426.9 C911.6,431.9 906.8,436.8 902.0,441.5 C897.2,446.2 892.4,450.8 887.4,455.2 C882.5,459.6 877.5,463.8 872.6,467.9 C867.6,471.9 862.5,475.8 857.5,479.4 C852.5,483.1 847.4,486.5 842.4,489.8 C837.3,493.0 832.3,496.1 827.3,498.9 C822.3,501.7 817.3,504.3 812.4,506.6 C807.5,509.0 802.6,511.1 797.8,513.0 C793.0,514.8 788.2,516.5 783.6,517.9 C778.9,519.3 774.3,520.4 769.8,521.3 C765.4,522.2 761.0,522.8 756.7,523.2 C752.5,523.6 748.3,523.7 744.3,523.6 C740.3,523.4 736.4,523.1 732.7,522.4 C729.0,521.8 725.4,520.9 721.9,519.7 C718.5,518.6 715.3,517.2 712.2,515.6 C709.1,513.9 706.2,512.0 703.5,509.9 C700.7,507.8 697.1,504.0 695.9,502.9" fill="none" stroke="#2c2e3c" stroke-width="4.2" stroke-linecap="round" stroke-linejoin="round" />
</g>
<path d="M1141.0,293.0 C1140.5,294.2 1139.3,289.5 1138.0,300.0 C1136.7,310.5 1136.7,339.3 1133.0,356.0 C1129.3,372.7 1123.2,386.0 1116.0,400.0 C1108.8,414.0 1097.5,428.8 1090.0,440.0 C1082.5,451.2 1079.2,456.2 1071.0,467.0 C1062.8,477.8 1050.0,494.5 1041.0,505.0 C1032.0,515.5 1025.5,522.0 1017.0,530.0 C1008.5,538.0 998.3,545.8 990.0,553.0 C981.7,560.2 976.2,566.2 967.0,573.0 C957.8,579.8 946.2,588.3 935.0,594.0 C923.8,599.7 912.2,602.0 900.0,607.0 C887.8,612.0 868.3,621.2 862.0,624.0" fill="none" stroke="#253054" stroke-width="4.2" stroke-linecap="round" stroke-linejoin="round" />
<path d="M1145.4,295.6 L1145.0,294.5 L1144.6,292.9 L1144.1,291.1 L1143.6,289.1 L1143.0,286.9 L1142.4,284.6 L1141.7,282.2 L1141.0,279.9 L1140.4,277.6 L1139.7,275.5 L1139.0,273.5 L1138.3,271.5 L1137.6,269.6 L1136.9,267.6 L1136.1,265.6 L1135.4,263.7 L1134.6,261.7 L1133.8,259.8 L1133.0,257.8 L1132.2,255.9 L1131.4,254.0 L1130.7,252.0 L1129.9,250.1 L1129.1,248.1 L1128.2,246.2 L1127.4,244.3 L1126.5,242.4 L1125.6,240.5 L1124.7,238.6 L1123.8,236.7 L1122.8,234.9 L1121.8,233.0 L1120.7,231.2 L1119.6,229.4 L1118.6,227.6 L1117.4,225.8 L1116.3,224.1 L1115.2,222.3 L1114.0,220.5 L1112.9,218.8 L1111.7,217.1 L1110.5,215.4 L1109.3,213.7 L1108.0,212.0 L1106.8,210.3 L1105.5,208.6 L1104.3,206.9 L1103.0,205.3 L1101.7,203.7 L1100.3,202.0 L1099.0,200.4 L1097.6,198.8 L1096.3,197.2 L1094.9,195.7 L1093.5,194.1 L1092.1,192.5 L1090.7,191.0 L1089.2,189.5 L1087.8,188.0 L1086.3,186.5 L1084.8,185.0 L1083.3,183.5 L1081.8,182.1 L1080.3,180.6 L1078.7,179.2 L1077.2,177.8 L1075.6,176.4 L1074.1,175.0 L1072.5,173.6 L1070.9,172.3 L1069.2,170.9 L1067.6,169.6 L1066.0,168.3 L1064.3,167.0 L1062.7,165.7 L1061.0,164.5 L1059.3,163.2 L1057.6,162.0 L1055.9,160.7 L1054.2,159.5 L1052.4,158.4 L1050.7,157.2 L1048.9,156.0 L1047.2,154.9 L1045.4,153.8 L1043.6,152.6 L1041.8,151.5 L1040.0,150.5 L1038.2,149.4 L1036.3,148.4 L1034.5,147.3 L1032.6,146.3 L1030.8,145.3 L1028.9,144.3 L1027.0,143.4 L1025.1,142.4 L1023.2,141.5 L1021.3,140.6 L1019.4,139.7 L1017.5,138.8 L1015.5,138.0 L1013.6,137.1 L1011.7,136.3 L1009.7,135.5 L1007.7,134.7 L1005.7,133.9 L1003.8,133.2 L1001.8,132.4 L999.8,131.7 L997.8,131.0 L995.8,130.3 L993.7,129.6 L991.7,129.0 L989.7,128.3 L987.6,127.7 L985.6,127.1 L983.5,126.6 L981.5,126.0 L979.4,125.4 L977.4,124.9 L975.3,124.4 L973.2,123.9 L971.1,123.5 L969.0,123.0 L966.9,122.6 L964.8,122.2 L962.7,121.8 L960.6,121.4 L958.5,121.0 L956.4,120.7 L954.3,120.4 L952.1,120.1 L950.0,119.8 L947.9,119.5 L945.7,119.3 L943.6,119.0 L941.5,118.8 L939.3,118.6 L937.2,118.4 L935.0,118.3 L932.9,118.1 L930.7,118.0 L928.6,117.9 L926.4,117.8 L924.2,117.8 L922.1,117.7 L919.9,117.7 L917.7,117.7 L915.6,117.7 L913.4,117.8 L911.3,117.8 L909.1,117.9 L906.9,118.0 L904.8,118.1 L902.6,118.2 L900.4,118.3 L898.2,118.5 L896.1,118.7 L893.9,118.9 L891.8,119.1 L889.6,119.4 L887.4,119.7 L885.3,120.0 L883.1,120.3 L881.0,120.7 L878.8,121.1 L876.7,121.5 L874.5,121.9 L872.4,122.3 L870.3,122.8 L868.1,123.2 L866.0,123.6 L863.9,124.1 L861.7,124.6 L859.6,125.1 L857.5,125.6 L855.3,126.1 L853.2,126.7 L851.1,127.2 L849.0,127.8 L846.9,128.4 L844.8,129.0 L842.7,129.7 L840.6,130.3 L838.5,131.0 L836.4,131.7 L834.4,132.4 L832.3,133.1 L830.2,133.9 L828.2,134.6 L826.1,135.4 L824.1,136.2 L822.0,137.0 L820.0,137.8 L817.9,138.7 L815.9,139.5 L813.9,140.4 L811.9,141.3 L809.9,142.2 L807.9,143.2 L805.9,144.1 L803.9,145.0 L801.9,145.9 L799.9,146.9 L797.9,147.8 L795.9,148.8 L794.0,149.8 L792.0,150.9 L790.0,151.9 L788.1,153.0 L786.2,154.1 L784.3,155.2 L782.4,156.3 L780.5,157.5 L778.6,158.7 L776.8,159.9 L774.9,161.1 L773.1,162.3 L771.2,163.5 L769.4,164.8 L767.6,166.1 L765.8,167.3 L764.0,168.6 L762.2,170.0 L760.4,171.3 L758.7,172.6 L756.9,174.0 L755.2,175.4 L753.5,176.7 L751.7,178.1 L750.0,179.6 L748.4,181.0 L746.7,182.4 L745.0,183.9 L743.3,185.3 L741.7,186.8 L740.1,188.3 L738.4,189.8 L736.8,191.4 L735.2,192.9 L733.7,194.4 L732.1,196.0 L730.5,197.6 L729.0,199.2 L727.5,200.8 L725.9,202.4 L724.4,204.0 L722.9,205.6 L721.5,207.3 L720.0,208.9 L718.6,210.6 L717.1,212.3 L715.7,214.0 L714.3,215.7 L712.9,217.4 L711.5,219.2 L710.2,220.9 L708.8,222.6 L707.5,224.4 L706.2,226.2 L704.9,228.0 L703.6,229.7 L702.3,231.6 L701.1,233.4 L699.8,235.2 L698.6,237.0 L697.4,238.9 L696.2,240.7 L695.0,242.6 L693.9,244.4 L692.7,246.3 L691.6,248.2 L690.5,250.1 L689.4,252.0 L688.3,253.9 L687.2,255.9 L686.2,257.8 L685.1,259.7 L684.1,261.7 L683.1,263.6 L682.1,265.6 L681.2,267.6 L680.2,269.5 L679.3,271.5 L678.4,273.5 L677.5,275.5 L676.6,277.5 L675.7,279.5 L674.9,281.5 L674.1,283.6 L673.3,285.6 L672.5,287.6 L671.7,289.7 L670.9,291.7 L670.2,293.8 L669.5,295.8 L668.8,297.9 L668.1,300.0 L667.4,302.0 L666.8,304.1 L666.1,306.2 L665.5,308.3 L664.9,310.4 L664.4,312.5 L663.8,314.6 L663.3,316.7 L662.7,318.8 L662.2,320.9 L661.7,323.0 L661.3,325.1 L660.8,327.2 L660.4,329.3 L660.0,331.5 L659.6,333.6 L659.2,335.7 L658.9,337.9 L658.5,340.0 L658.2,342.1 L657.9,344.3 L657.6,346.4 L657.4,348.5 L657.1,350.7 L656.9,352.8 L656.7,355.0 L656.5,357.1 L656.3,359.3 L656.2,361.4 L656.1,363.5 L655.9,365.7 L655.9,367.8 L655.8,370.0 L655.7,372.1 L655.7,374.3 L655.7,376.4 L655.7,378.5 L655.7,380.7 L655.7,382.8 L655.8,385.0 L655.9,387.1 L656.0,389.2 L656.1,391.4 L656.2,393.5 L656.4,395.6 L656.5,397.7 L656.7,399.9 L656.9,402.0 L657.2,404.1 L657.4,406.2 L657.7,408.3 L658.0,410.4 L658.4,412.5 L658.8,414.6 L659.2,416.7 L659.7,418.7 L660.2,420.8 L660.7,422.9 L661.2,424.9 L661.7,427.0 L662.3,429.0 L662.8,431.0 L663.3,433.1 L663.8,435.1 L664.3,437.2 L664.9,439.2 L665.4,441.2 L666.0,443.3 L666.6,445.3 L667.2,447.3 L667.9,449.3 L668.5,451.3 L669.2,453.3 L669.9,455.3 L670.6,457.2 L671.3,459.2 L672.1,461.2 L672.8,463.1 L673.6,465.1 L674.4,467.0 L675.2,469.0 L676.0,470.9 L676.9,472.8 L677.7,474.7 L678.6,476.6 L679.5,478.5 L680.4,480.4 L681.4,482.2 L682.3,484.1 L683.3,486.0 L684.3,487.8 L685.3,489.6 L686.3,491.5 L687.3,493.3 L688.4,495.1 L689.4,496.9 L690.5,498.7 L691.6,500.4 L692.7,502.2 L693.8,504.0 L695.0,505.7 L696.2,507.4 L697.4,509.2 L698.8,511.1 L700.2,513.1 L701.7,515.0 L703.1,516.9 L704.5,518.7 L705.7,520.4 L706.9,521.8 L707.8,523.1 L708.5,524.0 L708.7,524.3 L709.2,521.3 L712.3,520.7 L712.3,520.7 L712.0,520.5 L711.8,520.3 L712.0,520.6 L709.6,524.5 L708.7,524.4 L709.3,524.7 L710.5,525.5 L712.1,526.5 L713.9,527.7 L716.0,529.0 L718.2,530.5 L720.6,532.0 L723.1,533.6 L725.6,535.2 L728.1,536.8 L730.5,538.3 L733.0,539.9 L735.6,541.5 L738.2,543.1 L740.9,544.8 L743.6,546.5 L746.4,548.2 L749.2,549.9 L752.0,551.6 L754.8,553.2 L757.6,554.9 L760.4,556.5 L763.2,558.1 L766.1,559.7 L769.0,561.3 L771.9,562.9 L774.7,564.4 L777.5,566.0 L780.3,567.5 L783.0,569.0 L785.7,570.4 L788.3,571.8 L790.8,573.2 L793.3,574.6 L795.7,575.9 L798.1,577.2 L800.5,578.5 L802.8,579.7 L805.2,581.0 L807.4,582.2 L809.7,583.4 L812.0,584.6 L814.3,585.7 L816.5,586.7 L818.7,587.7 L820.8,588.7 L822.8,589.7 L824.8,590.7 L826.7,591.7 L828.5,592.9 L830.3,594.2 L832.1,595.6 L833.9,597.2 L835.7,598.8 L837.4,600.6 L839.1,602.4 L840.8,604.2 L842.4,606.1 L843.9,607.9 L845.4,609.8 L846.8,611.6 L848.1,613.5 L849.4,615.3 L850.7,617.0 L851.8,618.8 L852.9,620.6 L853.9,622.4 L854.8,624.2 L855.6,626.0 L856.3,627.9 L857.0,629.8 L857.4,631.7 L857.8,633.7 L858.1,635.8 L858.3,637.9 L858.4,640.1 L858.4,642.4 L858.4,644.6 L858.4,646.9 L858.3,649.1 L858.3,651.4 L858.1,653.6 L857.9,655.7 L857.7,657.9 L857.4,660.1 L857.1,662.4 L856.7,664.6 L856.3,666.8 L856.0,669.1 L855.6,671.4 L855.3,673.6 L855.0,675.9 L854.7,678.2 L854.5,680.6 L854.2,682.9 L854.0,685.2 L853.7,687.4 L853.4,689.5 L853.1,691.6 L852.7,693.5 L852.3,695.4 L851.9,697.1 L851.5,698.8 L851.1,700.4 L850.6,701.8 L850.2,703.2 L849.7,704.5 L849.1,705.7 L848.4,706.9 L847.7,708.1 L846.9,709.3 L845.8,710.5 L844.5,711.7 L842.9,713.1 L841.3,714.4 L839.5,715.7 L837.8,717.0 L836.1,718.1 L834.6,719.2 L833.3,720.1 L832.3,720.8 L835.7,725.2 L836.5,724.5 L837.8,723.7 L839.3,722.6 L840.9,721.5 L842.7,720.2 L844.6,718.8 L846.4,717.3 L848.2,715.8 L849.8,714.3 L851.1,712.7 L852.3,711.2 L853.2,709.7 L854.0,708.2 L854.7,706.6 L855.3,705.1 L855.9,703.5 L856.4,701.9 L856.8,700.2 L857.2,698.5 L857.7,696.6 L858.1,694.6 L858.5,692.5 L858.8,690.3 L859.1,688.1 L859.4,685.8 L859.7,683.5 L859.9,681.2 L860.2,678.9 L860.4,676.6 L860.7,674.4 L861.0,672.2 L861.4,670.0 L861.8,667.7 L862.1,665.5 L862.5,663.2 L862.8,660.9 L863.2,658.6 L863.4,656.3 L863.6,653.9 L863.7,651.6 L863.8,649.3 L863.9,647.0 L863.9,644.7 L863.9,642.3 L863.9,639.9 L863.8,637.6 L863.6,635.2 L863.3,632.8 L862.8,630.5 L862.2,628.2 L861.5,626.0 L860.7,623.9 L859.8,621.8 L858.8,619.8 L857.6,617.8 L856.5,615.9 L855.2,614.0 L853.9,612.1 L852.6,610.2 L851.2,608.4 L849.8,606.4 L848.2,604.5 L846.6,602.5 L844.9,600.6 L843.2,598.6 L841.4,596.7 L839.5,594.9 L837.6,593.1 L835.7,591.4 L833.7,589.8 L831.6,588.3 L829.5,587.0 L827.4,585.8 L825.3,584.7 L823.1,583.7 L821.0,582.7 L818.8,581.7 L816.6,580.7 L814.5,579.7 L812.3,578.6 L810.0,577.4 L807.8,576.1 L805.5,574.9 L803.1,573.6 L800.7,572.4 L798.3,571.1 L795.9,569.7 L793.4,568.4 L790.9,567.0 L788.3,565.6 L785.7,564.1 L783.0,562.7 L780.2,561.1 L777.4,559.6 L774.5,558.1 L771.6,556.5 L768.8,554.9 L766.0,553.3 L763.1,551.7 L760.4,550.1 L757.6,548.5 L754.9,546.9 L752.1,545.2 L749.3,543.5 L746.5,541.8 L743.8,540.1 L741.1,538.4 L738.5,536.8 L735.9,535.2 L733.5,533.7 L731.0,532.1 L728.5,530.6 L726.0,529.0 L723.6,527.4 L721.2,525.9 L718.9,524.4 L716.9,523.1 L715.1,521.9 L713.5,520.9 L712.2,520.1 L711.2,519.5 L709.6,519.0 L707.2,523.2 L707.8,524.1 L708.4,524.6 L709.0,525.1 L709.7,525.6 L713.2,525.1 L713.6,521.7 L713.0,520.8 L712.2,519.7 L711.2,518.5 L710.1,517.0 L708.8,515.4 L707.5,513.6 L706.0,511.7 L704.6,509.8 L703.2,507.9 L701.9,506.1 L700.7,504.3 L699.6,502.7 L698.5,501.0 L697.4,499.2 L696.3,497.5 L695.2,495.8 L694.1,494.0 L693.1,492.3 L692.1,490.5 L691.1,488.8 L690.1,487.0 L689.1,485.2 L688.1,483.4 L687.2,481.6 L686.3,479.8 L685.4,477.9 L684.5,476.1 L683.6,474.3 L682.7,472.4 L681.9,470.5 L681.1,468.7 L680.3,466.8 L679.5,464.9 L678.7,463.0 L677.9,461.1 L677.2,459.2 L676.5,457.3 L675.8,455.4 L675.1,453.4 L674.4,451.5 L673.7,449.6 L673.1,447.6 L672.5,445.7 L671.9,443.7 L671.3,441.7 L670.7,439.8 L670.2,437.8 L669.7,435.8 L669.1,433.8 L668.7,431.8 L668.2,429.8 L667.8,427.8 L667.5,425.7 L667.2,423.7 L666.8,421.7 L666.6,419.6 L666.3,417.6 L666.0,415.5 L665.8,413.5 L665.6,411.4 L665.4,409.4 L665.1,407.4 L664.9,405.3 L664.6,403.3 L664.4,401.2 L664.2,399.2 L664.0,397.1 L663.8,395.0 L663.7,393.0 L663.6,390.9 L663.5,388.9 L663.4,386.8 L663.3,384.7 L663.2,382.6 L663.2,380.6 L663.2,378.5 L663.2,376.4 L663.2,374.3 L663.2,372.3 L663.3,370.2 L663.3,368.1 L663.4,366.0 L663.5,364.0 L663.7,361.9 L663.8,359.8 L664.0,357.7 L664.2,355.6 L664.4,353.6 L664.6,351.5 L664.8,349.4 L665.1,347.3 L665.3,345.3 L665.6,343.2 L665.9,341.1 L666.3,339.1 L666.6,337.0 L667.0,334.9 L667.4,332.9 L667.8,330.8 L668.2,328.7 L668.6,326.7 L669.1,324.6 L669.5,322.6 L670.0,320.5 L670.5,318.5 L671.1,316.5 L671.6,314.4 L672.2,312.4 L672.7,310.4 L673.3,308.3 L673.9,306.3 L674.6,304.3 L675.2,302.3 L675.9,300.3 L676.6,298.3 L677.3,296.3 L678.0,294.3 L678.7,292.3 L679.5,290.3 L680.2,288.3 L681.0,286.4 L681.8,284.4 L682.7,282.4 L683.5,280.5 L684.3,278.5 L685.2,276.6 L686.1,274.7 L687.0,272.7 L687.9,270.8 L688.9,268.9 L689.8,267.0 L690.8,265.1 L691.8,263.2 L692.8,261.3 L693.8,259.5 L694.8,257.6 L695.9,255.7 L697.0,253.9 L698.0,252.0 L699.1,250.2 L700.2,248.4 L701.4,246.6 L702.5,244.8 L703.7,243.0 L704.9,241.2 L706.0,239.4 L707.2,237.6 L708.5,235.8 L709.7,234.1 L711.0,232.4 L712.2,230.6 L713.5,228.9 L714.8,227.2 L716.1,225.5 L717.4,223.8 L718.8,222.1 L720.1,220.4 L721.5,218.8 L722.9,217.1 L724.3,215.5 L725.7,213.9 L727.1,212.3 L728.5,210.7 L730.0,209.1 L731.4,207.5 L732.9,205.9 L734.4,204.4 L735.9,202.8 L737.4,201.3 L738.9,199.8 L740.5,198.3 L742.0,196.8 L743.6,195.3 L745.1,193.8 L746.7,192.4 L748.3,190.9 L750.0,189.5 L751.6,188.1 L753.2,186.7 L754.9,185.3 L756.5,183.9 L758.2,182.6 L759.9,181.2 L761.5,179.9 L763.3,178.6 L765.0,177.3 L766.7,176.0 L768.4,174.7 L770.2,173.4 L771.9,172.2 L773.7,171.0 L775.5,169.7 L777.2,168.5 L779.0,167.3 L780.8,166.2 L782.7,165.0 L784.5,163.9 L786.3,162.7 L788.1,161.6 L790.0,160.5 L791.9,159.4 L793.7,158.3 L795.5,157.2 L797.4,156.2 L799.3,155.1 L801.2,154.0 L803.0,153.0 L804.9,152.0 L806.8,151.0 L808.7,150.0 L810.7,149.0 L812.6,148.1 L814.6,147.2 L816.5,146.4 L818.5,145.5 L820.5,144.7 L822.5,143.8 L824.4,143.0 L826.4,142.2 L828.4,141.5 L830.4,140.7 L832.4,140.0 L834.5,139.2 L836.5,138.5 L838.5,137.8 L840.5,137.2 L842.6,136.5 L844.6,135.9 L846.7,135.2 L848.7,134.6 L850.8,134.1 L852.8,133.5 L854.9,132.9 L856.9,132.4 L859.0,131.9 L861.1,131.4 L863.2,130.9 L865.2,130.4 L867.3,130.0 L869.4,129.6 L871.5,129.2 L873.6,128.8 L875.7,128.5 L877.8,128.2 L879.9,127.9 L882.0,127.6 L884.1,127.4 L886.2,127.1 L888.3,126.9 L890.4,126.7 L892.5,126.6 L894.6,126.3 L896.7,126.1 L898.8,126.0 L900.9,125.8 L903.0,125.7 L905.1,125.6 L907.3,125.5 L909.4,125.4 L911.5,125.3 L913.6,125.3 L915.7,125.2 L917.8,125.2 L919.9,125.2 L922.0,125.2 L924.1,125.3 L926.1,125.3 L928.2,125.4 L930.3,125.5 L932.4,125.6 L934.5,125.8 L936.6,125.9 L938.7,126.1 L940.7,126.3 L942.8,126.5 L944.9,126.7 L947.0,126.9 L949.0,127.2 L951.1,127.5 L953.2,127.8 L955.2,128.1 L957.3,128.4 L959.3,128.8 L961.4,129.1 L963.4,129.5 L965.4,129.9 L967.5,130.3 L969.5,130.8 L971.5,131.2 L973.5,131.7 L975.5,132.2 L977.5,132.7 L979.5,133.2 L981.5,133.8 L983.5,134.3 L985.5,134.9 L987.5,135.5 L989.5,136.1 L991.4,136.8 L993.4,137.4 L995.3,138.1 L997.3,138.8 L999.2,139.5 L1001.1,140.2 L1003.0,140.9 L1005.0,141.7 L1006.9,142.4 L1008.8,143.2 L1010.6,144.0 L1012.5,144.8 L1014.4,145.7 L1016.3,146.5 L1018.1,147.4 L1020.0,148.3 L1021.8,149.2 L1023.6,150.1 L1025.5,151.0 L1027.3,152.0 L1029.1,152.9 L1030.9,153.9 L1032.6,154.9 L1034.4,155.9 L1036.2,156.9 L1037.9,158.0 L1039.7,159.0 L1041.4,160.1 L1043.1,161.2 L1044.8,162.3 L1046.5,163.4 L1048.2,164.6 L1049.9,165.7 L1051.6,166.9 L1053.2,168.1 L1054.9,169.3 L1056.5,170.5 L1058.1,171.7 L1059.7,172.9 L1061.3,174.2 L1062.9,175.5 L1064.5,176.7 L1066.0,178.0 L1067.6,179.3 L1069.1,180.7 L1070.7,182.0 L1072.2,183.4 L1073.7,184.7 L1075.1,186.1 L1076.6,187.5 L1078.1,188.9 L1079.5,190.3 L1081.0,191.8 L1082.4,193.2 L1083.8,194.7 L1085.2,196.1 L1086.6,197.6 L1087.9,199.1 L1089.3,200.6 L1090.6,202.2 L1091.9,203.7 L1093.2,205.2 L1094.5,206.8 L1095.8,208.4 L1097.1,209.9 L1098.3,211.5 L1099.6,213.1 L1100.8,214.8 L1102.0,216.4 L1103.2,218.0 L1104.4,219.7 L1105.5,221.3 L1106.7,223.0 L1107.8,224.7 L1108.9,226.4 L1110.0,228.1 L1111.1,229.8 L1112.2,231.5 L1113.2,233.3 L1114.2,235.0 L1115.3,236.8 L1116.3,238.5 L1117.3,240.3 L1118.3,242.0 L1119.4,243.8 L1120.4,245.5 L1121.4,247.3 L1122.4,249.1 L1123.4,250.9 L1124.3,252.7 L1125.3,254.5 L1126.2,256.3 L1127.1,258.1 L1127.9,260.0 L1128.7,261.9 L1129.5,263.8 L1130.3,265.7 L1131.0,267.6 L1131.7,269.5 L1132.4,271.4 L1133.1,273.4 L1133.8,275.3 L1134.5,277.2 L1135.1,279.2 L1135.8,281.4 L1136.4,283.7 L1137.1,286.0 L1137.7,288.3 L1138.3,290.5 L1138.8,292.5 L1139.3,294.4 L1139.7,295.9 L1140.0,297.1 Z" fill="#2a2236"/>
<path d="M1140.1,297.2 L1140.5,298.4 L1140.9,299.9 L1141.5,301.7 L1142.2,303.8 L1142.9,306.0 L1143.6,308.2 L1144.3,310.5 L1145.0,312.8 L1145.7,314.9 L1146.4,316.9 L1147.0,318.7 L1147.5,320.5 L1148.1,322.3 L1148.7,324.1 L1149.2,325.9 L1149.8,327.6 L1150.4,329.4 L1151.1,331.1 L1151.8,332.7 L1152.6,334.3 L1153.4,335.8 L1154.3,337.2 L1155.2,338.5 L1156.2,339.8 L1157.1,341.1 L1158.1,342.2 L1159.2,343.3 L1160.2,344.3 L1161.2,345.3 L1162.3,346.1 L1163.3,346.9 L1164.2,347.6 L1165.2,348.3 L1166.3,349.0 L1167.4,349.6 L1168.6,350.0 L1169.9,350.4 L1171.3,350.7 L1172.7,350.8 L1174.2,350.7 L1175.9,350.5 L1177.6,350.1 L1179.3,349.5 L1181.0,348.9 L1182.7,348.2 L1184.4,347.4 L1186.1,346.6 L1187.8,345.9 L1189.4,345.2 L1191.0,344.6 L1192.7,343.9 L1194.2,343.2 L1195.7,342.4 L1197.2,341.7 L1198.6,341.0 L1200.0,340.4 L1201.4,339.8 L1202.9,339.3 L1204.5,339.0 L1206.3,338.7 L1208.4,338.5 L1210.7,338.4 L1213.2,338.3 L1215.8,338.2 L1218.4,338.2 L1221.0,338.4 L1223.5,338.7 L1225.8,339.1 L1227.9,339.7 L1229.8,340.5 L1231.6,341.5 L1233.3,342.7 L1235.0,344.1 L1236.6,345.7 L1238.2,347.4 L1239.7,349.3 L1241.1,351.2 L1242.4,353.2 L1243.5,355.2 L1244.5,357.2 L1245.3,359.1 L1246.0,361.2 L1246.6,363.4 L1247.0,365.7 L1247.4,368.1 L1247.7,370.5 L1247.9,373.0 L1248.0,375.4 L1248.2,377.8 L1248.3,380.1 L1248.3,382.3 L1248.3,384.6 L1248.2,387.0 L1248.0,389.3 L1247.8,391.6 L1247.5,393.8 L1247.2,396.0 L1246.9,398.0 L1246.6,399.8 L1246.3,401.4 L1246.0,402.5 L1245.7,403.2 L1245.4,403.7 L1245.0,404.2 L1244.4,404.8 L1243.6,405.7 L1242.9,406.9 L1242.4,408.5 L1242.2,410.2 L1242.3,412.2 L1242.5,414.5 L1243.0,417.1 L1243.6,419.9 L1244.4,422.9 L1245.2,426.0 L1246.1,429.1 L1247.0,432.2 L1247.8,435.2 L1248.6,438.1 L1249.3,440.7 L1250.0,443.2 L1250.6,445.5 L1251.2,447.9 L1251.8,450.1 L1252.4,452.3 L1253.0,454.5 L1253.6,456.6 L1254.2,458.7 L1254.8,460.8 L1255.4,462.8 L1256.1,465.0 L1257.0,467.0 L1258.0,469.0 L1258.9,470.8 L1259.8,472.6 L1260.5,474.2 L1261.0,475.7 L1261.4,477.0 L1261.5,478.2 L1261.3,479.3 L1260.9,480.4 L1260.2,481.5 L1259.1,482.8 L1257.6,484.1 L1256.0,485.5 L1254.2,487.0 L1252.4,488.7 L1250.6,490.5 L1248.9,492.5 L1247.6,494.7 L1246.5,497.0 L1245.6,499.2 L1244.9,501.5 L1244.2,503.9 L1243.6,506.4 L1243.0,508.9 L1242.5,511.5 L1242.1,514.1 L1241.7,516.8 L1241.3,519.6 L1240.9,522.7 L1240.6,526.2 L1240.3,529.8 L1240.1,533.6 L1239.9,537.4 L1239.7,541.0 L1239.6,544.4 L1239.5,547.4 L1239.4,549.9 L1239.3,551.9 L1244.7,552.1 L1244.8,550.2 L1245.0,547.6 L1245.1,544.6 L1245.2,541.2 L1245.4,537.6 L1245.6,533.9 L1245.8,530.2 L1246.1,526.6 L1246.4,523.3 L1246.7,520.4 L1247.1,517.6 L1247.5,515.0 L1248.0,512.4 L1248.4,510.0 L1248.9,507.6 L1249.5,505.3 L1250.1,503.2 L1250.8,501.1 L1251.6,499.1 L1252.4,497.3 L1253.4,495.7 L1254.6,494.2 L1256.1,492.7 L1257.8,491.2 L1259.5,489.7 L1261.3,488.2 L1263.0,486.6 L1264.5,484.9 L1265.8,482.9 L1266.7,480.7 L1267.0,478.4 L1266.8,476.2 L1266.3,474.1 L1265.6,472.1 L1264.7,470.2 L1263.8,468.3 L1262.9,466.5 L1262.0,464.7 L1261.3,463.0 L1260.6,461.2 L1260.0,459.2 L1259.5,457.2 L1258.9,455.1 L1258.3,453.0 L1257.7,450.9 L1257.1,448.7 L1256.5,446.5 L1255.9,444.2 L1255.3,441.8 L1254.7,439.3 L1253.9,436.6 L1253.1,433.7 L1252.3,430.7 L1251.4,427.6 L1250.5,424.5 L1249.7,421.5 L1249.0,418.6 L1248.4,416.0 L1248.0,413.7 L1247.7,411.8 L1247.7,410.4 L1247.8,409.6 L1248.0,409.2 L1248.2,408.8 L1248.5,408.4 L1249.1,407.8 L1249.8,407.0 L1250.6,405.8 L1251.2,404.3 L1251.7,402.6 L1252.0,400.8 L1252.3,398.8 L1252.7,396.7 L1253.0,394.5 L1253.2,392.2 L1253.5,389.8 L1253.6,387.3 L1253.8,384.8 L1253.8,382.3 L1253.7,379.9 L1253.6,377.5 L1253.5,375.1 L1253.4,372.6 L1253.1,370.0 L1252.9,367.4 L1252.5,364.8 L1252.0,362.2 L1251.3,359.7 L1250.5,357.2 L1249.5,354.8 L1248.3,352.6 L1247.1,350.3 L1245.6,348.1 L1244.1,345.9 L1242.4,343.8 L1240.6,341.8 L1238.7,340.0 L1236.6,338.3 L1234.5,336.8 L1232.2,335.5 L1229.7,334.5 L1227.1,333.8 L1224.3,333.3 L1221.5,332.9 L1218.6,332.8 L1215.8,332.7 L1213.0,332.8 L1210.4,332.9 L1208.0,333.1 L1205.7,333.3 L1203.5,333.6 L1201.5,334.0 L1199.6,334.6 L1197.9,335.3 L1196.3,336.0 L1194.7,336.8 L1193.3,337.5 L1191.9,338.2 L1190.5,338.8 L1189.0,339.4 L1187.3,340.1 L1185.6,340.8 L1183.9,341.6 L1182.2,342.4 L1180.5,343.1 L1178.9,343.8 L1177.4,344.3 L1176.1,344.8 L1174.8,345.1 L1173.8,345.3 L1172.8,345.3 L1171.9,345.2 L1171.2,345.1 L1170.4,344.9 L1169.7,344.6 L1169.0,344.2 L1168.2,343.7 L1167.4,343.2 L1166.6,342.5 L1165.7,341.9 L1164.8,341.1 L1164.0,340.3 L1163.1,339.5 L1162.2,338.6 L1161.4,337.6 L1160.5,336.5 L1159.7,335.4 L1158.9,334.2 L1158.1,333.0 L1157.4,331.7 L1156.8,330.4 L1156.2,329.0 L1155.6,327.5 L1155.0,325.9 L1154.4,324.2 L1153.9,322.5 L1153.4,320.7 L1152.8,318.9 L1152.2,317.0 L1151.6,315.1 L1151.0,313.2 L1150.3,311.1 L1149.6,308.8 L1148.8,306.6 L1148.1,304.3 L1147.4,302.1 L1146.8,300.1 L1146.2,298.3 L1145.7,296.7 L1145.3,295.5 Z" fill="#2a2236"/>
<path d="M1240.7,550.5 L1239.1,551.7 L1237.1,553.2 L1234.8,555.0 L1232.3,557.0 L1229.5,559.2 L1226.5,561.5 L1223.3,564.0 L1219.8,566.4 L1216.1,568.9 L1212.3,571.4 L1208.1,573.9 L1203.7,576.6 L1198.9,579.4 L1193.9,582.3 L1188.7,585.2 L1183.4,588.1 L1177.9,591.1 L1172.4,593.9 L1166.8,596.7 L1161.2,599.3 L1155.5,601.8 L1149.5,604.4 L1143.2,607.0 L1136.9,609.5 L1130.5,612.0 L1124.1,614.4 L1117.9,616.6 L1111.8,618.8 L1106.0,620.7 L1100.5,622.5 L1095.4,624.1 L1090.4,625.6 L1085.7,627.0 L1081.3,628.3 L1077.0,629.5 L1072.8,630.4 L1068.8,631.1 L1064.9,631.7 L1061.0,632.0 L1057.1,632.0 L1053.3,631.7 L1049.3,631.2 L1045.4,630.3 L1041.4,629.3 L1037.4,628.0 L1033.5,626.6 L1029.7,625.1 L1025.9,623.6 L1022.3,622.1 L1018.9,620.6 L1015.8,619.3 L1012.9,618.0 L1010.3,616.7 L1007.9,615.5 L1005.5,614.1 L1003.3,612.7 L1001.0,611.1 L998.8,609.4 L996.4,607.4 L993.9,605.1 L991.4,602.5 L988.6,599.4 L985.8,596.0 L983.0,592.4 L980.2,588.6 L977.4,584.8 L974.7,581.1 L972.1,577.5 L969.8,574.2 L967.6,571.2 L965.6,568.5 L963.8,566.0 L962.1,563.5 L960.5,561.2 L959.1,559.0 L957.8,557.0 L956.6,555.1 L955.5,553.5 L954.5,552.1 L953.7,551.0 L950.3,553.0 L950.9,554.3 L951.6,555.8 L952.5,557.5 L953.5,559.5 L954.7,561.6 L955.9,564.0 L957.3,566.5 L958.9,569.2 L960.6,571.9 L962.4,574.8 L964.4,577.9 L966.6,581.3 L969.0,585.0 L971.5,588.9 L974.2,592.9 L976.9,596.9 L979.7,600.7 L982.5,604.4 L985.3,607.9 L988.1,610.9 L990.7,613.5 L993.2,615.9 L995.7,618.0 L998.2,620.0 L1000.7,621.7 L1003.3,623.4 L1006.0,624.9 L1008.9,626.4 L1011.9,627.9 L1015.1,629.4 L1018.5,630.9 L1022.1,632.5 L1026.0,634.2 L1030.0,635.8 L1034.2,637.4 L1038.6,638.8 L1043.0,640.0 L1047.6,641.0 L1052.2,641.7 L1056.9,642.0 L1061.4,641.9 L1066.0,641.6 L1070.4,641.0 L1074.9,640.1 L1079.4,639.0 L1083.9,637.8 L1088.6,636.4 L1093.4,634.9 L1098.3,633.2 L1103.5,631.5 L1109.0,629.7 L1114.9,627.6 L1121.0,625.3 L1127.3,622.9 L1133.8,620.4 L1140.2,617.7 L1146.6,615.0 L1152.9,612.3 L1159.0,609.5 L1164.8,606.7 L1170.4,603.9 L1176.0,600.9 L1181.6,597.8 L1187.1,594.7 L1192.4,591.5 L1197.6,588.4 L1202.5,585.3 L1207.2,582.3 L1211.6,579.4 L1215.7,576.6 L1219.6,573.9 L1223.3,571.2 L1226.7,568.4 L1229.9,565.7 L1232.8,563.2 L1235.5,560.8 L1237.9,558.5 L1240.0,556.6 L1241.8,554.9 L1243.3,553.5 Z" fill="#2a2236"/>
<path d="M923.9,131.5 L925.4,131.9 L927.3,132.3 L929.4,132.7 L931.9,133.1 L934.5,133.6 L937.4,134.0 L940.4,134.5 L943.4,134.9 L946.5,135.4 L949.7,136.0 L953.0,136.6 L956.9,137.3 L961.1,138.1 L965.4,138.9 L969.8,139.7 L974.0,140.5 L978.0,141.2 L981.6,141.8 L984.6,142.2 L986.9,142.5 L987.1,141.5 L984.9,140.8 L982.0,139.9 L978.5,138.9 L974.6,137.8 L970.5,136.7 L966.2,135.6 L961.8,134.5 L957.7,133.5 L953.8,132.7 L950.3,132.0 L947.1,131.5 L943.9,131.1 L940.8,130.8 L937.7,130.6 L934.8,130.4 L932.1,130.4 L929.6,130.3 L927.4,130.4 L925.6,130.4 L924.1,130.5 Z" fill="#5a4528"/>
<path d="M947.4,188.3 L948.6,187.2 L949.9,185.8 L951.5,184.1 L953.2,182.1 L955.1,180.0 L957.1,177.8 L959.3,175.6 L961.5,173.4 L963.7,171.3 L966.1,169.4 L968.7,167.5 L971.8,165.4 L975.1,163.3 L978.7,161.1 L982.3,159.0 L985.8,156.9 L989.1,155.0 L992.0,153.2 L994.4,151.7 L996.2,150.4 L995.8,149.6 L993.8,150.5 L991.2,151.6 L988.1,153.1 L984.6,154.7 L981.0,156.5 L977.2,158.5 L973.5,160.5 L970.0,162.6 L966.7,164.6 L963.9,166.6 L961.4,168.7 L959.1,171.0 L956.9,173.4 L954.9,175.8 L953.0,178.2 L951.3,180.6 L949.8,182.8 L948.5,184.7 L947.5,186.4 L946.6,187.7 Z" fill="#5a4528"/>
<path d="M929.0,197.5 L930.0,197.6 L931.3,197.6 L932.8,197.6 L934.4,197.6 L936.2,197.5 L938.0,197.5 L939.8,197.4 L941.6,197.4 L943.4,197.4 L944.9,197.5 L946.4,197.6 L948.1,197.8 L949.8,198.1 L951.5,198.3 L953.2,198.6 L954.9,198.9 L956.4,199.1 L957.8,199.3 L959.0,199.4 L959.9,199.5 L960.1,198.5 L959.3,198.2 L958.2,197.7 L956.9,197.3 L955.4,196.8 L953.8,196.3 L952.1,195.8 L950.3,195.3 L948.5,195.0 L946.8,194.7 L945.1,194.5 L943.4,194.5 L941.6,194.5 L939.7,194.6 L937.8,194.9 L936.0,195.1 L934.2,195.4 L932.6,195.7 L931.1,196.0 L929.9,196.3 L929.0,196.5 Z" fill="#5a4528"/>
<path d="M989.8,207.3 L990.3,207.9 L991.1,208.6 L992.1,209.3 L993.3,210.1 L994.5,210.9 L995.7,211.6 L997.0,212.2 L998.1,212.7 L999.1,213.1 L999.8,213.3 L1000.2,212.7 L999.7,212.1 L998.9,211.4 L997.9,210.7 L996.7,209.9 L995.5,209.1 L994.3,208.4 L993.0,207.8 L991.9,207.3 L990.9,206.9 L990.2,206.7 Z" fill="#5a4528"/>
<path d="M726.8,538.0 L728.4,538.5 L730.5,539.2 L733.0,540.0 L735.8,540.8 L738.9,541.7 L742.1,542.5 L745.4,543.3 L748.6,544.0 L751.7,544.7 L754.6,545.2 L757.5,545.6 L760.6,546.0 L763.8,546.3 L767.0,546.6 L770.1,546.7 L773.0,546.9 L775.8,547.0 L778.2,547.0 L780.3,547.0 L781.9,547.0 L782.1,545.0 L780.5,544.6 L778.5,544.3 L776.1,543.9 L773.4,543.4 L770.4,543.0 L767.4,542.6 L764.3,542.1 L761.2,541.7 L758.2,541.2 L755.4,540.8 L752.5,540.3 L749.4,539.7 L746.2,539.2 L743.0,538.6 L739.7,538.0 L736.6,537.4 L733.7,536.9 L731.1,536.5 L728.9,536.2 L727.2,536.0 Z" fill="#2c3554"/>
<ellipse cx="885.2" cy="538.7" rx="36.5" ry="41.5" transform="rotate(-35 885.2 538.7)" fill="#67799f"/>
<path d="M907.0,502.9 L906.2,502.0 L905.2,500.7 L903.9,499.3 L902.5,497.6 L900.9,495.8 L899.1,494.0 L897.3,492.2 L895.4,490.5 L893.4,488.9 L891.3,487.6 L889.3,486.5 L887.2,485.5 L885.1,484.5 L882.8,483.6 L880.5,482.8 L878.1,482.0 L875.6,481.5 L873.1,481.0 L870.5,480.8 L867.9,480.8 L865.4,480.9 L862.7,481.0 L859.8,481.3 L856.9,481.6 L853.9,482.2 L850.9,483.0 L847.9,484.1 L845.0,485.6 L842.2,487.4 L839.6,489.8 L837.3,492.6 L835.1,495.9 L833.1,499.5 L831.1,503.5 L829.3,507.6 L827.7,511.8 L826.2,516.0 L824.8,520.0 L823.7,523.8 L822.8,527.2 L822.2,530.4 L821.7,533.4 L821.4,536.4 L821.3,539.2 L821.3,541.9 L821.5,544.6 L821.9,547.2 L822.5,549.8 L823.1,552.4 L823.9,555.0 L824.8,557.7 L825.9,560.4 L827.2,563.1 L828.6,565.8 L830.2,568.5 L831.9,571.1 L833.7,573.6 L835.6,576.0 L837.7,578.3 L839.8,580.4 L842.2,582.4 L844.7,584.2 L847.4,585.8 L850.1,587.3 L852.9,588.7 L855.8,590.0 L858.7,591.1 L861.5,592.2 L864.3,593.2 L867.0,594.1 L869.7,594.9 L872.4,595.6 L875.1,596.3 L877.8,596.8 L880.5,597.2 L883.2,597.6 L885.9,597.8 L888.6,598.0 L891.3,598.2 L893.9,598.2 L896.7,598.3 L899.4,598.2 L902.2,598.0 L905.0,597.8 L907.8,597.5 L910.5,597.1 L913.2,596.7 L915.8,596.2 L918.3,595.7 L920.7,595.2 L923.1,594.6 L925.4,594.0 L927.7,593.4 L930.0,592.7 L932.2,591.9 L934.3,591.1 L936.4,590.1 L938.4,589.1 L940.3,587.8 L942.1,586.5 L943.7,584.9 L945.1,583.1 L946.4,581.3 L947.5,579.4 L948.5,577.4 L949.4,575.4 L950.1,573.4 L950.7,571.4 L951.3,569.5 L951.7,567.6 L951.9,565.5 L951.9,563.4 L951.8,561.3 L951.5,559.2 L951.2,557.2 L950.8,555.3 L950.4,553.6 L950.0,552.0 L949.7,550.8 L949.5,549.8 L946.5,550.2 L946.5,551.2 L946.6,552.6 L946.7,554.1 L946.8,555.9 L947.0,557.7 L947.0,559.6 L947.0,561.5 L946.9,563.3 L946.7,564.9 L946.3,566.4 L945.9,568.0 L945.3,569.7 L944.7,571.4 L943.9,573.1 L943.1,574.7 L942.2,576.3 L941.2,577.8 L940.2,579.2 L939.1,580.5 L937.9,581.5 L936.6,582.5 L935.2,583.5 L933.6,584.3 L931.8,585.1 L929.9,585.8 L928.0,586.5 L925.9,587.1 L923.7,587.7 L921.5,588.3 L919.3,588.8 L917.0,589.4 L914.6,589.8 L912.1,590.3 L909.6,590.7 L907.0,591.0 L904.4,591.3 L901.8,591.5 L899.2,591.7 L896.6,591.8 L894.1,591.8 L891.5,591.7 L889.0,591.5 L886.5,591.4 L884.0,591.1 L881.5,590.8 L879.0,590.4 L876.5,589.9 L874.0,589.3 L871.5,588.7 L869.0,587.9 L866.4,587.0 L863.7,586.1 L861.0,585.1 L858.3,584.0 L855.7,582.8 L853.1,581.5 L850.6,580.2 L848.3,578.7 L846.1,577.2 L844.2,575.6 L842.3,573.8 L840.5,571.8 L838.8,569.7 L837.2,567.5 L835.7,565.1 L834.3,562.7 L833.0,560.3 L831.9,557.8 L830.9,555.4 L830.1,553.0 L829.4,550.7 L828.8,548.4 L828.3,546.1 L828.0,543.8 L827.8,541.6 L827.8,539.2 L827.9,536.8 L828.1,534.3 L828.5,531.6 L829.2,528.8 L830.0,525.6 L831.1,522.0 L832.3,518.1 L833.7,514.1 L835.3,510.1 L837.0,506.2 L838.8,502.6 L840.7,499.3 L842.5,496.4 L844.4,494.2 L846.2,492.6 L848.3,491.2 L850.5,490.1 L852.9,489.2 L855.3,488.5 L857.9,488.1 L860.5,487.7 L863.1,487.5 L865.7,487.4 L868.1,487.2 L870.3,487.2 L872.4,487.3 L874.5,487.6 L876.7,488.0 L878.8,488.5 L880.8,489.1 L882.9,489.9 L884.9,490.7 L886.8,491.5 L888.7,492.4 L890.5,493.3 L892.3,494.5 L894.2,495.9 L896.1,497.4 L897.9,498.9 L899.6,500.4 L901.2,501.9 L902.7,503.2 L903.9,504.3 L905.0,505.1 Z" fill="#1f2744"/>
<path d="M855.0,522.2 L855.1,521.3 L855.2,520.1 L855.3,518.8 L855.3,517.4 L855.4,515.9 L855.6,514.4 L855.8,513.1 L856.2,511.9 L856.5,511.1 L856.9,510.6 L857.4,510.2 L858.1,509.7 L859.0,509.2 L860.1,508.8 L861.3,508.4 L862.6,508.1 L863.9,507.9 L865.3,507.7 L866.7,507.6 L868.0,507.5 L869.4,507.5 L870.9,507.6 L872.6,507.9 L874.3,508.2 L876.0,508.5 L877.7,508.9 L879.4,509.3 L880.9,509.7 L882.2,510.1 L883.2,510.4 L884.0,510.6 L884.5,510.8 L884.9,510.9 L885.1,511.1 L885.3,511.2 L885.5,511.3 L885.7,511.5 L885.9,511.8 L886.3,512.2 L886.6,512.4 L889.4,509.6 L889.4,509.5 L889.4,509.4 L889.3,509.1 L889.0,508.7 L888.7,508.2 L888.2,507.6 L887.5,507.1 L886.7,506.5 L885.8,506.0 L884.8,505.6 L883.6,505.3 L882.2,504.9 L880.6,504.5 L878.9,504.0 L877.1,503.6 L875.2,503.2 L873.3,502.9 L871.5,502.7 L869.7,502.5 L868.0,502.5 L866.4,502.6 L864.8,502.7 L863.2,502.9 L861.6,503.2 L860.0,503.6 L858.4,504.1 L857.0,504.6 L855.6,505.4 L854.3,506.3 L853.1,507.4 L852.2,508.9 L851.6,510.5 L851.2,512.2 L851.0,513.9 L850.9,515.6 L850.9,517.2 L851.0,518.7 L851.0,520.1 L851.0,521.1 L851.0,521.8 Z" fill="#1f2744"/>
<path d="M877.5,512.2 L877.6,513.1 L877.6,514.3 L877.7,515.8 L877.7,517.5 L877.8,519.4 L878.0,521.4 L878.2,523.4 L878.5,525.3 L879.0,527.2 L879.7,529.1 L880.7,530.8 L882.0,532.3 L883.3,533.8 L884.8,535.1 L886.2,536.3 L887.5,537.5 L888.7,538.6 L889.7,539.5 L890.4,540.3 L890.7,540.9 L890.9,541.3 L891.0,541.9 L890.9,542.6 L890.7,543.4 L890.4,544.3 L890.0,545.2 L889.6,546.1 L889.2,546.9 L888.8,547.7 L888.6,548.4 L891.4,549.6 L891.7,549.2 L892.1,548.7 L892.6,548.0 L893.3,547.2 L894.0,546.2 L894.6,545.1 L895.2,543.8 L895.5,542.4 L895.6,540.8 L895.3,539.1 L894.5,537.5 L893.4,536.2 L892.2,534.9 L890.8,533.7 L889.4,532.5 L888.1,531.4 L886.8,530.2 L885.7,529.1 L884.9,528.0 L884.3,526.9 L883.8,525.7 L883.4,524.3 L883.1,522.6 L882.9,520.9 L882.8,519.1 L882.7,517.3 L882.7,515.7 L882.6,514.2 L882.6,512.8 L882.5,511.8 Z" fill="#1f2744"/>
<path d="M917.0,532.8 L916.8,533.6 L916.6,534.5 L916.4,535.7 L916.2,537.0 L915.9,538.4 L915.7,539.9 L915.5,541.4 L915.3,543.0 L915.1,544.5 L915.0,546.0 L915.1,547.5 L915.3,549.1 L915.5,550.7 L915.7,552.4 L915.9,554.0 L916.2,555.6 L916.4,557.0 L916.6,558.3 L916.8,559.3 L917.0,560.2 L921.0,559.8 L921.0,559.0 L921.0,557.9 L921.0,556.6 L921.0,555.1 L920.9,553.6 L920.9,552.0 L920.9,550.4 L920.9,548.8 L920.9,547.3 L921.0,546.0 L920.9,544.7 L920.9,543.3 L920.9,541.8 L920.9,540.3 L920.9,538.9 L921.0,537.5 L921.0,536.2 L921.0,535.0 L921.0,534.0 L921.0,533.2 Z" fill="#1f2744"/>
<path d="M1046.0,318.0 C1048.5,313.0 1052.7,307.5 1058.0,305.0 C1063.3,302.5 1071.8,301.8 1078.0,303.0 C1084.2,304.2 1090.8,307.8 1095.0,312.0 C1099.2,316.2 1102.2,323.7 1103.0,328.0 C1103.8,332.3 1102.2,336.0 1100.0,338.0 C1097.8,340.0 1093.3,340.8 1090.0,340.0 C1086.7,339.2 1083.3,333.7 1080.0,333.0 C1076.7,332.3 1073.0,334.0 1070.0,336.0 C1067.0,338.0 1064.3,341.3 1062.0,345.0 C1059.7,348.7 1058.7,356.8 1056.0,358.0 C1053.3,359.2 1048.2,355.8 1046.0,352.0 C1043.8,348.2 1043.0,340.7 1043.0,335.0 C1043.0,329.3 1043.5,323.0 1046.0,318.0 Z" fill="#7b88ab"/>
<path d="M1042.5,348.0 L1042.7,346.8 L1042.8,345.2 L1043.0,343.3 L1043.1,341.2 L1043.3,339.0 L1043.5,336.7 L1043.8,334.4 L1044.1,332.3 L1044.5,330.3 L1044.9,328.6 L1045.4,327.1 L1045.8,325.5 L1046.4,324.0 L1047.0,322.6 L1047.7,321.2 L1048.4,319.8 L1049.2,318.5 L1049.9,317.3 L1050.8,316.1 L1051.6,315.0 L1052.4,313.9 L1053.2,312.8 L1054.1,311.8 L1055.0,310.9 L1056.0,310.0 L1057.0,309.2 L1058.0,308.4 L1059.1,307.7 L1060.1,307.1 L1061.1,306.5 L1062.1,306.0 L1063.3,305.6 L1064.6,305.2 L1066.0,304.8 L1067.4,304.6 L1068.8,304.3 L1070.1,304.1 L1071.3,303.9 L1072.4,303.7 L1073.2,303.5 L1072.8,300.5 L1072.1,300.5 L1071.1,300.4 L1069.9,300.4 L1068.5,300.3 L1067.0,300.3 L1065.4,300.4 L1063.8,300.5 L1062.1,300.7 L1060.5,301.0 L1058.9,301.5 L1057.5,302.1 L1056.2,302.8 L1054.8,303.6 L1053.5,304.4 L1052.2,305.4 L1051.0,306.4 L1049.8,307.4 L1048.6,308.6 L1047.5,309.8 L1046.4,311.0 L1045.5,312.4 L1044.5,313.8 L1043.7,315.3 L1042.8,316.9 L1042.1,318.5 L1041.3,320.1 L1040.7,321.9 L1040.1,323.6 L1039.5,325.5 L1039.1,327.4 L1038.8,329.5 L1038.7,331.7 L1038.7,334.1 L1038.7,336.5 L1038.8,338.9 L1038.9,341.2 L1039.1,343.3 L1039.2,345.2 L1039.4,346.8 L1039.5,348.0 Z" fill="#1f2744"/>
<path d="M1065.5,365.0 L1065.6,363.8 L1065.7,362.1 L1065.7,360.2 L1065.8,358.0 L1065.9,355.7 L1066.0,353.4 L1066.1,351.0 L1066.2,348.8 L1066.3,346.8 L1066.5,345.1 L1066.6,343.6 L1066.7,342.2 L1066.8,340.9 L1067.0,339.6 L1067.2,338.5 L1067.3,337.4 L1067.6,336.4 L1067.8,335.5 L1068.0,334.7 L1068.3,334.0 L1068.5,333.4 L1068.7,332.9 L1069.0,332.3 L1069.4,331.8 L1069.9,331.3 L1070.3,330.8 L1070.8,330.4 L1071.3,330.0 L1071.7,329.5 L1072.0,329.1 L1070.0,326.9 L1069.7,327.0 L1069.3,327.2 L1068.7,327.4 L1068.1,327.8 L1067.4,328.2 L1066.6,328.7 L1065.8,329.3 L1065.1,330.1 L1064.3,331.0 L1063.7,332.0 L1063.3,333.1 L1063.0,334.1 L1062.7,335.3 L1062.4,336.4 L1062.2,337.7 L1062.0,339.0 L1061.9,340.3 L1061.7,341.8 L1061.6,343.3 L1061.5,344.9 L1061.5,346.7 L1061.6,348.8 L1061.7,351.0 L1061.8,353.4 L1061.9,355.8 L1062.0,358.1 L1062.1,360.2 L1062.3,362.2 L1062.4,363.8 L1062.5,365.0 Z" fill="#1f2744"/>
<path d="M1080.4,332.4 L1081.0,332.7 L1081.7,333.1 L1082.5,333.5 L1083.4,333.9 L1084.4,334.3 L1085.3,334.8 L1086.2,335.3 L1087.1,335.8 L1087.8,336.4 L1088.4,337.0 L1089.1,337.6 L1089.7,338.3 L1090.3,339.0 L1090.9,339.8 L1091.6,340.7 L1092.2,341.6 L1092.7,342.5 L1093.3,343.5 L1093.9,344.5 L1094.4,345.5 L1095.0,346.5 L1095.6,347.6 L1096.1,348.7 L1096.7,349.8 L1097.2,351.0 L1097.7,352.2 L1098.2,353.3 L1098.6,354.5 L1099.0,355.6 L1099.3,356.7 L1099.7,357.7 L1100.0,358.8 L1100.3,360.0 L1100.5,361.2 L1100.7,362.4 L1100.9,363.5 L1101.0,364.6 L1101.2,365.6 L1101.3,366.4 L1101.5,367.1 L1104.5,366.9 L1104.6,366.3 L1104.7,365.5 L1104.8,364.5 L1104.9,363.4 L1104.9,362.1 L1105.0,360.8 L1105.0,359.5 L1104.9,358.1 L1104.8,356.7 L1104.7,355.3 L1104.3,354.0 L1103.9,352.7 L1103.5,351.4 L1103.0,350.1 L1102.5,348.8 L1102.0,347.4 L1101.4,346.2 L1100.8,344.9 L1100.2,343.7 L1099.6,342.5 L1098.9,341.4 L1098.2,340.4 L1097.5,339.3 L1096.7,338.3 L1095.9,337.3 L1095.1,336.4 L1094.3,335.5 L1093.4,334.6 L1092.5,333.8 L1091.6,333.0 L1090.5,332.4 L1089.3,331.8 L1088.1,331.3 L1086.9,330.9 L1085.8,330.6 L1084.7,330.3 L1083.7,330.0 L1082.8,329.9 L1082.1,329.7 L1081.6,329.6 Z" fill="#1f2744"/>
<ellipse cx="1080.5" cy="384" rx="17.5" ry="26" transform="rotate(-12 1080.5 384)" fill="#1d2242"/>
<ellipse cx="1081" cy="385" rx="12.5" ry="20" transform="rotate(-12 1081 385)" fill="#272e52"/>
<path d="M864.0,642.0 C871.7,644.0 895.2,651.0 910.0,654.0 C924.8,657.0 938.0,659.7 953.0,660.0 C968.0,660.3 983.3,657.8 1000.0,656.0 C1016.7,654.2 1044.2,650.2 1053.0,649.0" fill="none" stroke="#3a1f2a" stroke-width="3.2" stroke-linecap="round" stroke-linejoin="round" />
<path d="M846.2,730.3 L847.8,731.4 L849.8,732.7 L852.2,734.4 L854.9,736.2 L857.9,738.1 L861.0,740.2 L864.2,742.2 L867.5,744.3 L870.8,746.2 L874.0,748.0 L877.1,749.6 L880.3,751.2 L883.6,752.8 L886.9,754.3 L890.2,755.8 L893.7,757.3 L897.2,758.8 L900.7,760.3 L904.4,761.8 L908.1,763.3 L911.9,764.9 L915.8,766.4 L919.9,768.1 L924.0,769.7 L928.2,771.3 L932.5,772.9 L936.7,774.4 L941.0,775.9 L945.2,777.2 L949.3,778.4 L953.4,779.5 L957.5,780.5 L961.5,781.5 L965.6,782.4 L969.6,783.1 L973.7,783.8 L977.7,784.4 L981.8,784.9 L985.8,785.3 L989.9,785.5 L994.0,785.5 L998.2,785.4 L1002.4,785.1 L1006.5,784.7 L1010.7,784.2 L1014.8,783.7 L1018.8,783.1 L1022.7,782.4 L1026.6,781.8 L1030.3,781.2 L1034.2,780.5 L1038.1,779.7 L1042.1,778.9 L1046.1,778.0 L1049.9,777.1 L1053.5,776.2 L1056.9,775.4 L1059.8,774.6 L1062.3,774.0 L1064.3,773.5 L1063.7,770.5 L1061.7,770.9 L1059.1,771.4 L1056.1,772.0 L1052.7,772.7 L1049.1,773.4 L1045.3,774.2 L1041.3,774.9 L1037.3,775.6 L1033.4,776.2 L1029.7,776.8 L1025.9,777.3 L1022.0,777.9 L1018.1,778.5 L1014.1,779.0 L1010.1,779.5 L1006.0,779.9 L1002.0,780.3 L998.0,780.5 L994.0,780.6 L990.1,780.5 L986.2,780.3 L982.3,779.9 L978.4,779.5 L974.4,778.9 L970.5,778.2 L966.6,777.5 L962.6,776.6 L958.7,775.7 L954.7,774.7 L950.7,773.6 L946.6,772.4 L942.5,771.1 L938.4,769.7 L934.2,768.2 L930.0,766.7 L925.9,765.1 L921.7,763.4 L917.7,761.8 L913.8,760.2 L909.9,758.7 L906.2,757.2 L902.6,755.8 L899.0,754.3 L895.5,752.9 L892.1,751.4 L888.8,750.0 L885.5,748.5 L882.3,747.1 L879.1,745.5 L876.0,744.0 L872.9,742.4 L869.6,740.6 L866.3,738.8 L863.0,736.9 L859.9,735.0 L856.9,733.2 L854.1,731.5 L851.6,730.0 L849.5,728.7 L847.8,727.7 Z" fill="#3a1c2c"/>
<path d="M1013.9,735.5 L1015.1,735.9 L1016.7,736.4 L1018.6,737.0 L1020.7,737.5 L1022.9,738.1 L1025.3,738.7 L1027.7,739.3 L1030.1,739.8 L1032.4,740.4 L1034.5,740.9 L1036.6,741.5 L1039.0,742.2 L1041.4,742.8 L1043.9,743.5 L1046.3,744.2 L1048.7,744.9 L1050.8,745.4 L1052.8,745.9 L1054.5,746.3 L1055.8,746.5 L1056.2,745.5 L1055.0,744.9 L1053.5,744.1 L1051.6,743.2 L1049.6,742.3 L1047.3,741.3 L1045.0,740.3 L1042.5,739.4 L1040.1,738.5 L1037.7,737.7 L1035.5,737.1 L1033.3,736.5 L1030.9,736.1 L1028.4,735.7 L1025.9,735.3 L1023.5,735.0 L1021.1,734.8 L1019.0,734.6 L1017.0,734.5 L1015.4,734.5 L1014.1,734.5 Z" fill="#7a1f2a"/>
<path d="M1053.0,640.1 L1053.1,642.5 L1053.3,645.7 L1053.5,649.3 L1053.7,653.5 L1053.9,657.9 L1054.1,662.5 L1054.3,667.2 L1054.6,671.8 L1054.8,676.1 L1055.0,680.1 L1055.2,683.8 L1055.3,687.4 L1055.4,690.9 L1055.5,694.4 L1055.6,697.9 L1055.7,701.4 L1055.9,704.9 L1056.2,708.6 L1056.5,712.4 L1057.0,716.4 L1057.6,720.6 L1058.2,725.1 L1058.9,729.8 L1059.7,734.6 L1060.5,739.4 L1061.5,744.2 L1062.5,748.9 L1063.6,753.3 L1064.9,757.4 L1066.2,761.1 L1067.8,764.4 L1069.4,767.4 L1071.2,770.1 L1073.1,772.4 L1075.1,774.6 L1077.1,776.6 L1079.1,778.5 L1081.1,780.3 L1083.1,782.1 L1085.1,784.0 L1087.2,786.0 L1089.4,788.0 L1091.8,789.9 L1094.1,791.7 L1096.4,793.6 L1098.8,795.3 L1101.1,797.1 L1103.3,798.7 L1105.4,800.4 L1107.4,801.9 L1109.1,803.4 L1110.4,804.6 L1111.6,805.8 L1112.7,807.0 L1113.9,808.3 L1115.3,809.6 L1116.9,811.0 L1119.0,812.5 L1121.6,814.2 L1124.8,816.2 L1128.7,818.3 L1133.4,820.7 L1138.6,823.3 L1144.2,825.9 L1150.1,828.7 L1156.0,831.5 L1161.7,834.3 L1167.2,837.0 L1172.3,839.7 L1176.8,842.2 L1180.7,844.5 L1184.5,846.8 L1187.9,848.9 L1191.2,851.0 L1194.2,853.0 L1197.0,855.1 L1199.7,857.3 L1202.3,859.6 L1204.7,862.0 L1207.1,864.6 L1209.4,867.5 L1211.6,870.4 L1213.6,873.6 L1215.5,876.8 L1217.3,880.1 L1219.0,883.6 L1220.6,887.1 L1222.0,890.6 L1223.4,894.2 L1224.6,897.8 L1225.7,901.4 L1226.6,905.1 L1227.4,909.0 L1228.1,912.9 L1228.6,916.9 L1229.1,920.9 L1229.5,924.8 L1229.9,928.7 L1230.2,932.5 L1230.5,936.3 L1231.0,939.9 L1231.6,943.6 L1232.3,947.1 L1233.0,950.5 L1233.5,953.8 L1233.8,956.8 L1233.8,959.7 L1233.4,962.5 L1232.5,965.0 L1230.9,967.6 L1228.9,970.2 L1226.5,972.7 L1223.8,975.1 L1220.8,977.4 L1217.2,979.7 L1213.1,982.0 L1208.5,984.2 L1203.2,986.3 L1197.1,988.5 L1190.3,990.6 L1182.5,992.7 L1173.6,994.9 L1163.8,997.1 L1153.3,999.2 L1142.4,1001.2 L1131.1,1003.2 L1119.7,1005.0 L1108.4,1006.7 L1097.3,1008.2 L1086.7,1009.5 L1076.3,1010.6 L1065.8,1011.6 L1055.2,1012.5 L1044.7,1013.2 L1034.1,1013.8 L1023.7,1014.3 L1013.4,1014.5 L1003.4,1014.7 L993.5,1014.7 L984.1,1014.5 L974.9,1014.2 L966.0,1013.7 L957.4,1013.1 L948.9,1012.3 L940.6,1011.3 L932.5,1010.3 L924.4,1009.0 L916.4,1007.7 L908.5,1006.2 L900.5,1004.6 L892.7,1002.8 L885.0,1000.8 L877.5,998.7 L870.0,996.4 L862.6,993.9 L855.2,991.4 L847.7,988.8 L840.2,986.1 L832.6,983.4 L824.8,980.6 L816.8,977.8 L808.5,974.8 L800.0,971.7 L791.5,968.4 L782.9,965.2 L774.5,961.9 L766.2,958.7 L758.4,955.5 L750.9,952.5 L744.0,949.7 L737.5,947.1 L731.6,944.6 L726.0,942.2 L720.7,939.8 L715.6,937.6 L710.8,935.4 L706.0,933.1 L701.4,930.9 L696.7,928.6 L691.9,926.2 L687.0,923.8 L681.8,921.1 L676.6,918.4 L671.5,915.6 L666.4,912.8 L661.7,910.2 L657.3,907.7 L653.4,905.6 L650.0,903.7 L647.4,902.4 L646.6,903.6 L649.1,905.2 L652.3,907.3 L656.1,909.7 L660.4,912.3 L665.1,915.2 L670.0,918.2 L675.0,921.2 L680.1,924.2 L685.2,927.1 L690.1,929.8 L694.8,932.2 L699.5,934.6 L704.2,937.0 L708.9,939.3 L713.7,941.7 L718.8,944.0 L724.1,946.5 L729.7,949.0 L735.6,951.6 L742.0,954.3 L749.0,957.2 L756.5,960.2 L764.4,963.3 L772.6,966.6 L781.1,969.8 L789.7,973.1 L798.3,976.3 L806.8,979.5 L815.1,982.5 L823.2,985.4 L830.9,988.1 L838.6,990.8 L846.1,993.5 L853.6,996.1 L861.0,998.7 L868.5,1001.1 L876.1,1003.4 L883.7,1005.6 L891.5,1007.6 L899.5,1009.4 L907.5,1011.1 L915.5,1012.6 L923.6,1014.0 L931.8,1015.2 L940.0,1016.3 L948.4,1017.2 L956.9,1018.0 L965.7,1018.7 L974.7,1019.2 L983.9,1019.5 L993.5,1019.7 L1003.4,1019.7 L1013.5,1019.5 L1023.9,1019.3 L1034.4,1018.8 L1045.0,1018.2 L1055.6,1017.5 L1066.3,1016.6 L1076.8,1015.6 L1087.3,1014.5 L1098.0,1013.2 L1109.1,1011.7 L1120.5,1010.0 L1131.9,1008.1 L1143.3,1006.1 L1154.3,1004.1 L1164.8,1002.0 L1174.7,999.8 L1183.7,997.6 L1191.7,995.4 L1198.7,993.2 L1204.9,991.0 L1210.5,988.7 L1215.4,986.4 L1219.8,984.0 L1223.6,981.5 L1227.0,978.9 L1230.0,976.2 L1232.7,973.4 L1235.1,970.4 L1237.0,967.2 L1238.2,963.7 L1238.8,960.2 L1238.8,956.6 L1238.5,953.1 L1237.9,949.6 L1237.2,946.1 L1236.5,942.7 L1235.9,939.2 L1235.5,935.7 L1235.2,932.1 L1234.9,928.3 L1234.5,924.3 L1234.1,920.3 L1233.6,916.2 L1233.0,912.1 L1232.3,908.1 L1231.5,904.0 L1230.5,900.1 L1229.4,896.2 L1228.1,892.5 L1226.7,888.8 L1225.2,885.1 L1223.6,881.4 L1221.8,877.9 L1219.9,874.3 L1217.9,870.9 L1215.7,867.6 L1213.4,864.4 L1210.9,861.4 L1208.3,858.5 L1205.7,855.9 L1202.9,853.5 L1200.1,851.2 L1197.1,849.0 L1193.9,846.8 L1190.6,844.7 L1187.1,842.5 L1183.3,840.2 L1179.2,837.8 L1174.7,835.3 L1169.5,832.6 L1163.9,829.8 L1158.1,827.0 L1152.2,824.2 L1146.4,821.4 L1140.8,818.8 L1135.6,816.2 L1131.0,813.9 L1127.2,811.8 L1124.2,810.0 L1121.9,808.4 L1120.0,807.1 L1118.6,805.9 L1117.4,804.7 L1116.3,803.6 L1115.2,802.4 L1113.9,801.1 L1112.4,799.7 L1110.6,798.1 L1108.6,796.4 L1106.4,794.7 L1104.2,793.0 L1102.0,791.2 L1099.7,789.4 L1097.4,787.6 L1095.2,785.8 L1093.0,783.9 L1090.9,782.0 L1088.9,780.0 L1086.9,778.0 L1084.9,776.2 L1083.0,774.3 L1081.1,772.5 L1079.3,770.7 L1077.6,768.7 L1076.0,766.6 L1074.5,764.3 L1073.1,761.8 L1071.8,758.9 L1070.6,755.5 L1069.4,751.7 L1068.3,747.5 L1067.4,743.0 L1066.5,738.3 L1065.6,733.6 L1064.9,728.8 L1064.2,724.2 L1063.5,719.8 L1063.0,715.6 L1062.5,711.8 L1062.1,708.1 L1061.9,704.5 L1061.7,701.1 L1061.6,697.6 L1061.5,694.2 L1061.4,690.8 L1061.3,687.2 L1061.2,683.6 L1061.0,679.9 L1060.8,675.8 L1060.6,671.5 L1060.3,666.9 L1060.1,662.2 L1059.9,657.6 L1059.7,653.2 L1059.4,649.0 L1059.3,645.4 L1059.1,642.2 L1059.0,639.9 Z" fill="#2a2236"/>
<path d="M703.8,937.5 L706.2,938.6 L709.3,939.9 L712.9,941.5 L717.1,943.2 L721.5,945.0 L726.2,946.9 L730.9,948.8 L735.6,950.5 L740.2,952.2 L744.4,953.7 L748.7,955.0 L753.2,956.4 L757.9,957.7 L762.6,959.0 L767.2,960.3 L771.6,961.4 L775.7,962.4 L779.3,963.3 L782.4,964.0 L784.9,964.5 L785.1,963.5 L782.8,962.6 L779.8,961.6 L776.3,960.4 L772.3,959.0 L768.0,957.6 L763.4,956.1 L758.8,954.7 L754.2,953.2 L749.7,951.7 L745.6,950.3 L741.3,948.9 L736.8,947.4 L732.0,945.7 L727.2,944.1 L722.5,942.5 L717.9,940.9 L713.7,939.5 L709.9,938.3 L706.7,937.3 L704.2,936.5 Z" fill="#3a2e48"/>
<path d="M958.0,1003.5 L964.0,1004.1 L971.8,1004.9 L980.9,1005.8 L991.2,1006.8 L1002.3,1007.8 L1014.0,1008.8 L1025.9,1009.7 L1037.7,1010.6 L1049.1,1011.2 L1059.9,1011.7 L1070.8,1012.1 L1082.5,1012.3 L1094.6,1012.4 L1106.8,1012.4 L1118.9,1012.3 L1130.4,1012.2 L1141.1,1012.0 L1150.7,1011.8 L1158.7,1011.7 L1165.0,1011.5 L1165.0,1010.5 L1158.7,1010.3 L1150.7,1010.1 L1141.1,1009.9 L1130.4,1009.7 L1118.9,1009.6 L1106.8,1009.4 L1094.6,1009.2 L1082.5,1008.9 L1070.9,1008.6 L1060.1,1008.3 L1049.3,1007.8 L1037.9,1007.2 L1026.1,1006.5 L1014.2,1005.8 L1002.5,1005.1 L991.4,1004.4 L981.1,1003.7 L971.9,1003.2 L964.1,1002.7 L958.0,1002.5 Z" fill="#3a2e48"/>
<ellipse cx="836" cy="1013.5" rx="5" ry="2.6" transform="rotate(8 836 1013.5)" fill="#3a2e48"/>
<ellipse cx="836" cy="1022.5" rx="4" ry="1.8" transform="rotate(8 836 1022.5)" fill="#4a3d55"/>
<path d="M1082.6,790.3 L1083.1,791.0 L1083.6,791.8 L1084.3,792.7 L1085.1,793.7 L1086.0,794.7 L1086.9,795.8 L1087.9,797.0 L1088.9,798.2 L1089.8,799.5 L1090.8,800.8 L1091.7,802.3 L1092.8,804.1 L1094.0,806.1 L1095.3,808.1 L1096.5,810.2 L1097.7,812.2 L1098.9,814.1 L1099.9,815.8 L1100.8,817.2 L1101.6,818.2 L1102.4,817.8 L1102.0,816.6 L1101.3,815.0 L1100.5,813.2 L1099.6,811.2 L1098.6,809.1 L1097.6,806.9 L1096.5,804.7 L1095.3,802.6 L1094.3,800.8 L1093.2,799.2 L1092.2,797.7 L1091.1,796.4 L1090.0,795.2 L1088.9,794.1 L1087.7,793.0 L1086.7,792.1 L1085.7,791.3 L1084.8,790.7 L1084.0,790.1 L1083.4,789.7 Z" fill="#3a2e48"/>
<path d="M1109.6,797.3 L1110.7,798.8 L1112.2,800.7 L1114.0,803.0 L1116.1,805.5 L1118.3,808.2 L1120.6,811.0 L1122.9,813.7 L1125.1,816.3 L1127.2,818.7 L1129.1,820.8 L1130.9,822.7 L1132.7,824.6 L1134.5,826.4 L1136.3,828.1 L1138.0,829.7 L1139.7,831.1 L1141.2,832.5 L1142.5,833.6 L1143.7,834.6 L1144.6,835.4 L1145.4,834.6 L1144.6,833.7 L1143.5,832.6 L1142.3,831.2 L1141.0,829.8 L1139.5,828.2 L1137.9,826.5 L1136.2,824.7 L1134.4,822.9 L1132.7,821.0 L1130.9,819.2 L1129.0,817.1 L1126.9,814.7 L1124.6,812.2 L1122.2,809.5 L1119.8,806.9 L1117.5,804.3 L1115.3,801.9 L1113.4,799.8 L1111.7,798.0 L1110.4,796.7 Z" fill="#6a6070"/>
<path d="M1224.5,905.1 L1224.9,906.6 L1225.3,908.4 L1225.9,910.6 L1226.6,912.9 L1227.3,915.5 L1228.0,918.3 L1228.8,921.2 L1229.5,924.2 L1230.1,927.2 L1230.7,930.2 L1231.2,933.5 L1231.7,937.1 L1232.3,941.0 L1232.8,945.0 L1233.3,949.0 L1233.8,953.0 L1234.2,956.7 L1234.4,960.2 L1234.6,963.3 L1234.6,965.9 L1234.5,968.0 L1234.2,969.8 L1233.7,971.3 L1233.1,972.5 L1232.5,973.7 L1231.8,974.6 L1231.1,975.5 L1230.5,976.3 L1229.9,977.0 L1229.6,977.7 L1230.4,978.3 L1230.9,977.8 L1231.5,977.2 L1232.3,976.6 L1233.1,975.8 L1234.0,974.8 L1235.0,973.7 L1235.8,972.2 L1236.5,970.5 L1237.1,968.4 L1237.4,966.1 L1237.4,963.3 L1237.3,960.1 L1237.1,956.5 L1236.8,952.6 L1236.3,948.6 L1235.8,944.6 L1235.2,940.5 L1234.6,936.7 L1234.0,933.0 L1233.3,929.8 L1232.7,926.7 L1231.9,923.6 L1231.0,920.6 L1230.1,917.7 L1229.2,915.0 L1228.3,912.4 L1227.4,910.1 L1226.7,908.0 L1226.0,906.3 L1225.5,904.9 Z" fill="#3a2e48"/>
<path d="M1207.4,955.3 L1207.9,954.7 L1208.5,954.0 L1209.2,953.1 L1209.9,952.1 L1210.7,951.0 L1211.5,949.8 L1212.2,948.7 L1212.9,947.6 L1213.6,946.5 L1214.1,945.6 L1214.5,944.7 L1214.9,943.8 L1215.3,942.9 L1215.6,942.1 L1215.8,941.3 L1216.0,940.5 L1216.2,939.8 L1216.3,939.2 L1216.4,938.6 L1216.5,938.2 L1215.5,937.8 L1215.3,938.2 L1215.0,938.6 L1214.6,939.2 L1214.3,939.8 L1213.9,940.5 L1213.5,941.2 L1213.1,942.0 L1212.7,942.8 L1212.3,943.6 L1211.9,944.4 L1211.4,945.3 L1210.8,946.4 L1210.2,947.5 L1209.6,948.7 L1208.9,949.9 L1208.3,951.1 L1207.7,952.2 L1207.2,953.2 L1206.8,954.1 L1206.6,954.7 Z" fill="#8a8290"/>
<path d="M832.6,720.3 L831.2,721.1 L829.3,722.1 L827.1,723.2 L824.6,724.5 L821.9,725.9 L819.2,727.4 L816.4,728.8 L813.7,730.1 L811.2,731.4 L808.9,732.5 L806.8,733.5 L804.8,734.3 L803.0,735.2 L801.2,735.9 L799.4,736.7 L797.6,737.4 L795.7,738.2 L793.7,738.9 L791.5,739.8 L789.2,740.6 L786.6,741.6 L784.0,742.5 L781.2,743.5 L778.4,744.4 L775.5,745.4 L772.4,746.5 L769.3,747.5 L766.0,748.5 L762.7,749.6 L759.3,750.6 L755.7,751.6 L751.8,752.7 L747.8,753.8 L743.6,754.9 L739.4,756.0 L735.1,757.1 L730.9,758.2 L726.8,759.3 L722.9,760.5 L719.2,761.6 L715.7,762.8 L712.4,764.0 L709.1,765.2 L706.0,766.5 L702.9,767.7 L700.0,768.9 L697.1,770.1 L694.3,771.4 L691.6,772.5 L689.0,773.7 L686.5,774.8 L684.2,775.7 L682.0,776.7 L679.8,777.5 L677.7,778.5 L675.6,779.5 L673.4,780.6 L671.2,781.8 L668.9,783.3 L666.5,785.0 L664.0,786.9 L661.3,789.0 L658.6,791.3 L655.8,793.7 L653.1,796.2 L650.3,798.8 L647.6,801.5 L645.0,804.1 L642.5,806.8 L640.1,809.3 L637.9,811.9 L635.8,814.5 L633.6,817.1 L631.6,819.7 L629.6,822.4 L627.7,825.0 L626.0,827.8 L624.4,830.6 L623.0,833.4 L621.9,836.2 L621.0,839.3 L620.5,842.6 L620.1,846.0 L620.0,849.3 L620.0,852.6 L620.1,855.7 L620.2,858.6 L620.4,861.2 L620.5,863.3 L620.5,865.0 L623.5,865.0 L623.6,863.3 L623.7,861.1 L623.7,858.6 L623.7,855.7 L623.7,852.6 L623.9,849.5 L624.2,846.3 L624.6,843.2 L625.3,840.4 L626.1,837.8 L627.2,835.3 L628.5,832.7 L630.0,830.2 L631.6,827.7 L633.4,825.1 L635.4,822.6 L637.4,820.1 L639.5,817.6 L641.7,815.1 L643.9,812.7 L646.1,810.2 L648.5,807.6 L651.1,805.0 L653.7,802.4 L656.4,799.9 L659.2,797.4 L661.9,795.1 L664.5,792.9 L667.1,790.8 L669.5,789.0 L671.7,787.5 L673.8,786.1 L675.8,785.0 L677.8,784.0 L679.8,783.0 L681.8,782.1 L683.9,781.3 L686.1,780.4 L688.5,779.4 L691.0,778.3 L693.6,777.1 L696.3,775.9 L699.1,774.7 L701.9,773.5 L704.8,772.3 L707.8,771.1 L710.9,769.9 L714.1,768.7 L717.4,767.5 L720.8,766.4 L724.4,765.2 L728.2,764.1 L732.2,763.0 L736.4,761.9 L740.6,760.8 L744.9,759.7 L749.1,758.6 L753.1,757.5 L757.0,756.5 L760.7,755.4 L764.2,754.3 L767.6,753.3 L770.8,752.2 L774.0,751.2 L777.0,750.2 L780.0,749.2 L782.9,748.2 L785.6,747.2 L788.3,746.3 L790.8,745.4 L793.2,744.5 L795.5,743.7 L797.5,743.0 L799.5,742.3 L801.3,741.6 L803.2,740.8 L805.1,740.1 L807.0,739.3 L809.0,738.4 L811.1,737.5 L813.5,736.4 L816.2,735.2 L818.9,733.8 L821.7,732.5 L824.6,731.1 L827.3,729.7 L829.8,728.4 L832.0,727.3 L833.9,726.4 L835.4,725.7 Z" fill="#2a2236"/>
<path d="M809.3,745.2 L809.5,746.4 L809.8,748.0 L810.2,749.8 L810.7,751.8 L811.2,754.0 L811.8,756.3 L812.4,758.7 L813.0,761.1 L813.5,763.4 L814.1,765.6 L814.7,767.7 L815.2,769.9 L815.8,772.1 L816.4,774.4 L817.0,776.7 L817.6,779.1 L818.3,781.4 L819.0,783.7 L819.8,785.9 L820.7,788.0 L821.7,790.1 L822.7,791.9 L823.6,793.8 L824.7,795.6 L825.8,797.4 L827.0,799.1 L828.3,800.9 L829.8,802.8 L831.4,804.7 L833.2,806.7 L835.1,808.8 L837.3,811.0 L839.5,813.3 L842.0,815.6 L844.5,818.0 L847.2,820.3 L849.9,822.7 L852.8,824.9 L855.7,827.1 L858.6,829.1 L861.6,831.0 L864.6,832.8 L867.6,834.6 L870.8,836.4 L874.0,838.0 L877.4,839.7 L880.8,841.2 L884.5,842.7 L888.3,844.1 L892.3,845.4 L896.6,846.6 L901.4,847.8 L906.5,848.9 L911.7,849.9 L917.0,850.9 L922.2,851.8 L927.2,852.6 L931.9,853.3 L936.0,853.9 L939.6,854.5 L942.2,854.9 L943.9,855.3 L944.9,855.6 L945.7,855.8 L946.7,856.0 L947.8,856.1 L949.2,856.1 L951.2,856.0 L954.1,855.8 L958.2,855.5 L963.7,855.1 L970.6,854.5 L978.4,853.8 L987.0,853.1 L995.9,852.2 L1005.0,851.3 L1013.9,850.4 L1022.2,849.4 L1029.9,848.4 L1036.4,847.5 L1042.0,846.4 L1047.2,845.3 L1051.8,844.1 L1056.1,842.9 L1060.0,841.7 L1063.5,840.5 L1066.8,839.3 L1069.9,838.2 L1072.9,837.1 L1075.7,836.1 L1078.3,835.3 L1080.7,834.6 L1082.9,834.0 L1084.8,833.4 L1086.7,832.8 L1088.4,832.2 L1090.0,831.5 L1091.5,830.7 L1093.0,829.7 L1094.4,828.4 L1095.7,826.9 L1096.8,825.0 L1097.7,823.1 L1098.4,821.1 L1099.0,819.0 L1099.6,817.1 L1100.0,815.3 L1100.4,813.7 L1100.7,812.3 L1100.9,811.3 L1099.1,810.7 L1098.6,811.6 L1098.1,813.0 L1097.5,814.5 L1096.9,816.3 L1096.2,818.1 L1095.4,819.9 L1094.6,821.6 L1093.7,823.2 L1092.7,824.5 L1091.6,825.6 L1090.5,826.4 L1089.4,827.2 L1088.2,827.8 L1086.8,828.3 L1085.3,828.8 L1083.6,829.3 L1081.7,829.8 L1079.5,830.4 L1077.1,831.0 L1074.3,831.9 L1071.4,832.8 L1068.4,833.8 L1065.3,834.9 L1062.0,836.0 L1058.5,837.2 L1054.7,838.3 L1050.6,839.4 L1046.1,840.5 L1041.1,841.6 L1035.6,842.5 L1029.2,843.5 L1021.6,844.5 L1013.3,845.4 L1004.5,846.4 L995.4,847.3 L986.5,848.1 L978.0,848.9 L970.2,849.5 L963.3,850.1 L957.8,850.5 L953.7,850.8 L950.9,851.0 L949.0,851.1 L947.9,851.1 L947.4,851.1 L947.1,851.0 L946.3,850.8 L945.1,850.4 L943.2,850.0 L940.4,849.5 L936.8,849.0 L932.6,848.4 L928.0,847.6 L923.0,846.8 L917.9,846.0 L912.6,845.0 L907.5,844.0 L902.5,842.9 L897.9,841.8 L893.7,840.6 L889.9,839.3 L886.3,838.0 L882.8,836.6 L879.5,835.1 L876.2,833.6 L873.1,832.0 L870.1,830.3 L867.2,828.6 L864.2,826.8 L861.4,824.9 L858.6,823.0 L855.8,820.9 L853.1,818.8 L850.4,816.5 L847.9,814.3 L845.4,812.0 L843.0,809.7 L840.8,807.5 L838.7,805.3 L836.8,803.3 L835.1,801.4 L833.6,799.6 L832.3,797.9 L831.1,796.3 L830.0,794.6 L829.0,793.0 L828.0,791.4 L827.1,789.6 L826.2,787.8 L825.3,786.0 L824.4,784.0 L823.5,782.0 L822.7,779.9 L822.0,777.7 L821.3,775.5 L820.6,773.3 L819.9,771.0 L819.3,768.8 L818.6,766.6 L817.9,764.4 L817.1,762.3 L816.3,760.0 L815.5,757.8 L814.7,755.5 L813.9,753.2 L813.1,751.1 L812.4,749.1 L811.8,747.4 L811.2,745.9 L810.7,744.8 Z" fill="#2a2236"/>
<path d="M732.8,475.3 L727.9,489.5 L722.0,507.9 L716.0,529.9 L709.9,554.8 L703.3,581.5 L696.4,609.5 L689.4,638.0 L682.5,666.3 L675.9,693.5 L669.7,719.1 L663.6,744.6 L657.1,771.8 L650.4,800.0 L643.7,828.4 L637.2,856.4 L630.9,883.1 L625.1,907.8 L620.4,930.0 L617.4,949.0 L615.3,963.8 L616.7,964.2 L621.5,950.0 L627.2,931.6 L632.9,909.7 L638.7,884.9 L644.9,858.2 L651.5,830.3 L658.2,801.8 L664.9,773.7 L671.4,746.4 L677.5,720.9 L683.7,695.4 L690.3,668.2 L697.2,639.9 L704.2,611.5 L711.0,583.5 L717.6,556.7 L723.7,531.9 L728.7,509.6 L732.0,490.6 L734.2,475.7 Z" fill="#2a2236"/>
<path d="M794.9,476.6 L790.1,492.1 L784.4,512.0 L778.7,535.8 L772.9,562.7 L766.6,591.6 L760.1,621.8 L753.5,652.5 L746.9,682.8 L740.7,712.0 L734.8,739.2 L729.1,766.1 L723.0,794.8 L716.8,824.3 L710.5,854.0 L704.4,883.1 L698.6,910.9 L693.2,936.7 L688.9,959.7 L686.1,979.4 L684.3,994.8 L685.7,995.2 L690.2,980.3 L695.6,961.2 L701.0,938.3 L706.4,912.6 L712.2,884.8 L718.4,855.7 L724.6,826.0 L730.9,796.4 L736.9,767.8 L742.7,740.8 L748.5,713.7 L754.7,684.5 L761.3,654.2 L767.9,623.5 L774.4,593.3 L780.7,564.4 L786.5,537.5 L791.2,513.5 L794.3,492.9 L796.3,477.0 Z" fill="#2a2236"/>
<path d="M708.8,569.0 L713.0,569.9 L718.9,570.9 L725.9,571.9 L733.7,572.9 L742.0,573.7 L750.3,574.5 L758.1,575.0 L765.2,575.4 L771.1,575.5 L775.5,575.5 L775.8,572.5 L771.5,571.6 L765.7,570.6 L758.7,569.6 L750.8,568.6 L742.6,567.8 L734.3,567.0 L726.4,566.5 L719.3,566.1 L713.4,566.0 L709.1,566.0 Z" fill="#352c42"/>
<path d="M700.9,601.5 L705.2,602.3 L711.1,603.1 L718.3,604.0 L726.3,604.8 L734.7,605.5 L743.2,606.0 L751.2,606.4 L758.4,606.6 L764.4,606.6 L768.8,606.5 L769.0,603.5 L764.7,602.7 L758.8,601.9 L751.6,601.0 L743.6,600.2 L735.2,599.5 L726.7,599.0 L718.7,598.6 L711.5,598.4 L705.5,598.4 L701.1,598.5 Z" fill="#352c42"/>
<path d="M692.6,635.1 L696.9,636.1 L702.9,637.2 L710.1,638.3 L718.1,639.4 L726.6,640.5 L735.0,641.4 L743.1,642.1 L750.4,642.6 L756.5,642.9 L760.9,642.9 L761.2,639.9 L756.9,638.9 L750.9,637.8 L743.7,636.7 L735.7,635.6 L727.2,634.5 L718.8,633.6 L710.7,632.9 L703.4,632.4 L697.4,632.1 L692.9,632.1 Z" fill="#352c42"/>
<path d="M684.1,670.1 L688.5,671.0 L694.6,671.9 L701.9,673.0 L710.1,673.9 L718.7,674.8 L727.4,675.5 L735.6,676.1 L743.0,676.4 L749.2,676.5 L753.7,676.5 L753.9,673.5 L749.5,672.6 L743.4,671.7 L736.1,670.6 L727.9,669.7 L719.3,668.8 L710.6,668.1 L702.4,667.5 L695.0,667.2 L688.8,667.1 L684.3,667.1 Z" fill="#352c42"/>
<path d="M675.7,703.8 L680.2,704.8 L686.3,706.0 L693.7,707.3 L701.9,708.6 L710.6,709.8 L719.2,710.8 L727.5,711.7 L735.0,712.3 L741.2,712.7 L745.8,712.8 L746.1,709.8 L741.7,708.8 L735.6,707.6 L728.2,706.3 L720.0,705.0 L711.3,703.8 L702.6,702.8 L694.3,701.9 L686.9,701.3 L680.7,700.9 L676.1,700.8 Z" fill="#352c42"/>
<path d="M666.1,743.5 L670.6,744.4 L676.9,745.4 L684.5,746.4 L692.9,747.4 L701.8,748.2 L710.7,749.0 L719.2,749.5 L726.8,749.9 L733.1,750.0 L737.8,750.0 L738.0,747.0 L733.5,746.1 L727.2,745.1 L719.7,744.1 L711.2,743.1 L702.3,742.3 L693.4,741.5 L685.0,741.0 L677.3,740.6 L671.0,740.5 L666.3,740.5 Z" fill="#352c42"/>
<path d="M656.5,782.5 L661.1,783.4 L667.4,784.5 L675.1,785.7 L683.6,786.8 L692.6,787.8 L701.6,788.7 L710.2,789.4 L717.9,789.9 L724.4,790.2 L729.1,790.2 L729.4,787.2 L724.8,786.3 L718.4,785.2 L710.8,784.0 L702.2,782.9 L693.3,781.9 L684.3,781.0 L675.7,780.3 L667.9,779.8 L661.5,779.5 L656.8,779.5 Z" fill="#352c42"/>
<path d="M647.9,817.5 L652.5,818.6 L658.8,819.9 L666.5,821.4 L675.1,822.8 L684.2,824.2 L693.2,825.4 L701.9,826.4 L709.7,827.2 L716.1,827.7 L720.9,827.9 L721.3,824.9 L716.7,823.8 L710.3,822.5 L702.6,821.0 L694.0,819.6 L685.0,818.2 L675.9,817.0 L667.3,816.0 L659.5,815.2 L653.0,814.7 L648.3,814.5 Z" fill="#352c42"/>
<path d="M639.5,851.2 L644.1,852.5 L650.5,854.2 L658.2,856.1 L666.8,857.9 L675.8,859.8 L684.9,861.5 L693.6,863.0 L701.4,864.2 L707.9,865.0 L712.7,865.5 L713.3,862.5 L708.7,861.2 L702.3,859.5 L694.6,857.6 L686.0,855.8 L677.0,853.9 L667.9,852.2 L659.2,850.7 L651.4,849.5 L644.9,848.7 L640.1,848.2 Z" fill="#352c42"/>
<path d="M630.6,887.5 L635.3,888.9 L641.7,890.7 L649.4,892.7 L658.1,894.7 L667.3,896.7 L676.4,898.6 L685.2,900.2 L693.1,901.6 L699.7,902.5 L704.5,903.1 L705.2,900.1 L700.5,898.7 L694.1,896.9 L686.3,894.9 L677.7,892.9 L668.5,890.9 L659.3,889.0 L650.6,887.4 L642.7,886.0 L636.1,885.1 L631.2,884.5 Z" fill="#352c42"/>
<path d="M619.2,934.2 L623.8,935.7 L630.4,937.6 L638.2,939.7 L647.0,941.9 L656.3,944.1 L665.6,946.2 L674.5,948.0 L682.5,949.4 L689.2,950.5 L694.1,951.2 L694.8,948.2 L690.1,946.7 L683.6,944.8 L675.7,942.7 L666.9,940.5 L657.6,938.3 L648.3,936.2 L639.4,934.4 L631.4,933.0 L624.7,931.9 L619.8,931.2 Z" fill="#352c42"/>
</svg>
<span style="left:764.19px;top:29.50px;font-weight:700;font-size:36.5px;line-height:36.5px;transform:scaleX(1.5064);color:#231f20;-webkit-text-stroke:1.1px #231f20;">Ladder of Focus</span>
<span style="left:459.72px;top:175.80px;font-weight:700;font-size:24.5px;line-height:24.5px;transform:scaleX(1.0806);color:#231f20;-webkit-text-stroke:0.9px #231f20;letter-spacing:-0.7px;">1. Vision</span>
<span style="left:242.60px;top:226.90px;font-weight:400;font-size:26px;line-height:26px;transform:scaleX(0.8420);color:#231f20;-webkit-text-stroke:0.35px #231f20;letter-spacing:0.35px;word-spacing:-2.5px;">Vision thinking is about the &quot;what</span>
<span style="left:268.06px;top:257.80px;font-weight:400;font-size:26px;line-height:26px;transform:scaleX(0.8397);color:#231f20;-webkit-text-stroke:0.35px #231f20;letter-spacing:0.35px;word-spacing:-2.5px;">and why&quot;. It&#x27;s the big picture of</span>
<span style="left:251.97px;top:288.60px;font-weight:400;font-size:26px;line-height:26px;transform:scaleX(0.8288);color:#231f20;-webkit-text-stroke:0.35px #231f20;letter-spacing:0.35px;word-spacing:-2.5px;">success for what your goals is or</span>
<span style="left:285.60px;top:318.80px;font-weight:400;font-size:26px;line-height:26px;transform:scaleX(0.8249);color:#231f20;-webkit-text-stroke:0.35px #231f20;letter-spacing:0.35px;word-spacing:-2.5px;">what you&#x27;re trying to achieve.</span>
<span style="left:423.75px;top:465.00px;font-weight:700;font-size:24.5px;line-height:24.5px;transform:scaleX(1.1256);color:#231f20;-webkit-text-stroke:0.9px #231f20;letter-spacing:-0.7px;">2. Planning</span>
<span style="left:281.06px;top:514.90px;font-weight:400;font-size:26px;line-height:26px;transform:scaleX(0.8428);color:#231f20;-webkit-text-stroke:0.35px #231f20;letter-spacing:0.35px;word-spacing:-2.5px;">Strategic thinking is solution-</span>
<span style="left:241.07px;top:545.50px;font-weight:400;font-size:26px;line-height:26px;transform:scaleX(0.8334);color:#231f20;-webkit-text-stroke:0.35px #231f20;letter-spacing:0.35px;word-spacing:-2.5px;">oriented about how you get there.</span>
<span style="left:450.57px;top:660.00px;font-weight:700;font-size:24.5px;line-height:24.5px;transform:scaleX(1.1255);color:#231f20;-webkit-text-stroke:0.9px #231f20;letter-spacing:-0.7px;">5. Drama</span>
<span style="left:285.53px;top:709.80px;font-weight:400;font-size:26px;line-height:26px;transform:scaleX(0.8353);color:#231f20;-webkit-text-stroke:0.35px #231f20;letter-spacing:0.35px;word-spacing:-2.5px;">Is the place where the vision,</span>
<span style="left:238.95px;top:740.60px;font-weight:400;font-size:26px;line-height:26px;transform:scaleX(0.8262);color:#231f20;-webkit-text-stroke:0.35px #231f20;letter-spacing:0.35px;word-spacing:-2.5px;">planning, detail and problem have</span>
<span style="left:267.80px;top:772.30px;font-weight:400;font-size:26px;line-height:26px;transform:scaleX(0.8358);color:#231f20;-webkit-text-stroke:0.35px #231f20;letter-spacing:0.35px;word-spacing:-2.5px;">fallen apart and the only things</span>
<span style="left:256.57px;top:803.10px;font-weight:400;font-size:26px;line-height:26px;transform:scaleX(0.8167);color:#231f20;-webkit-text-stroke:0.35px #231f20;letter-spacing:0.35px;word-spacing:-2.5px;">remaining are emotional charge.</span>
<span style="left:1397.10px;top:202.20px;font-weight:700;font-size:24.5px;line-height:24.5px;transform:scaleX(1.1747);color:#231f20;-webkit-text-stroke:0.9px #231f20;letter-spacing:-0.7px;">3. Detail</span>
<span style="left:1397.08px;top:251.80px;font-weight:400;font-size:26px;line-height:26px;transform:scaleX(0.8163);color:#231f20;-webkit-text-stroke:0.35px #231f20;letter-spacing:0.35px;word-spacing:-2.5px;">Once you know where you&#x27;re</span>
<span style="left:1396.68px;top:283.00px;font-weight:400;font-size:26px;line-height:26px;transform:scaleX(0.8190);color:#231f20;-webkit-text-stroke:0.35px #231f20;letter-spacing:0.35px;word-spacing:-2.5px;">going and how you can get</span>
<span style="left:1397.50px;top:314.00px;font-weight:400;font-size:26px;line-height:26px;transform:scaleX(0.8416);color:#231f20;-webkit-text-stroke:0.35px #231f20;letter-spacing:0.35px;word-spacing:-2.5px;">there, the details of the small</span>
<span style="left:1396.67px;top:345.20px;font-weight:400;font-size:26px;line-height:26px;transform:scaleX(0.8288);color:#231f20;-webkit-text-stroke:0.35px #231f20;letter-spacing:0.35px;word-spacing:-2.5px;">actions, events and decisions</span>
<span style="left:1396.66px;top:375.30px;font-weight:400;font-size:26px;line-height:26px;transform:scaleX(0.8376);color:#231f20;-webkit-text-stroke:0.35px #231f20;letter-spacing:0.35px;word-spacing:-2.5px;">come into focus.</span>
<span style="left:1396.90px;top:521.60px;font-weight:700;font-size:24.5px;line-height:24.5px;transform:scaleX(1.1314);color:#231f20;-webkit-text-stroke:0.9px #231f20;letter-spacing:-0.7px;">4. Problem</span>
<span style="left:1395.82px;top:572.30px;font-weight:400;font-size:26px;line-height:26px;transform:scaleX(0.8396);color:#231f20;-webkit-text-stroke:0.35px #231f20;letter-spacing:0.35px;word-spacing:-2.5px;">Problem thinking is the</span>
<span style="left:1396.68px;top:602.10px;font-weight:400;font-size:26px;line-height:26px;transform:scaleX(0.8161);color:#231f20;-webkit-text-stroke:0.35px #231f20;letter-spacing:0.35px;word-spacing:-2.5px;">area when events go wrong.</span>
<span style="left:1395.82px;top:633.20px;font-weight:400;font-size:26px;line-height:26px;transform:scaleX(0.8395);color:#231f20;-webkit-text-stroke:0.35px #231f20;letter-spacing:0.35px;word-spacing:-2.5px;">Unfortunately problems</span>
<span style="left:1396.67px;top:664.30px;font-weight:400;font-size:26px;line-height:26px;transform:scaleX(0.8303);color:#231f20;-webkit-text-stroke:0.35px #231f20;letter-spacing:0.35px;word-spacing:-2.5px;">are common but how can</span>
<span style="left:1397.50px;top:695.50px;font-weight:400;font-size:26px;line-height:26px;transform:scaleX(0.8258);color:#231f20;-webkit-text-stroke:0.35px #231f20;letter-spacing:0.35px;word-spacing:-2.5px;">you solve the problem</span>
<span style="left:1397.50px;top:726.60px;font-weight:400;font-size:26px;line-height:26px;transform:scaleX(0.8353);color:#231f20;-webkit-text-stroke:0.35px #231f20;letter-spacing:0.35px;word-spacing:-2.5px;">with a vision or planning</span>
<span style="left:1395.84px;top:756.40px;font-weight:400;font-size:26px;line-height:26px;transform:scaleX(0.8277);color:#231f20;-webkit-text-stroke:0.35px #231f20;letter-spacing:0.35px;word-spacing:-2.5px;">perspective?</span>
</body></html>
